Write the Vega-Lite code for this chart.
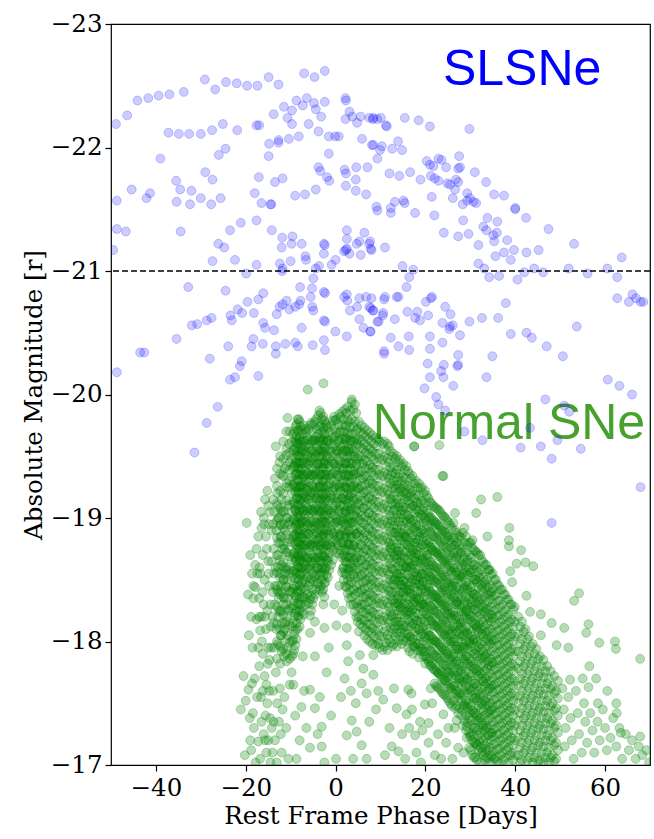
{
"$schema":"https://vega.github.io/schema/vega-lite/v6.json",
"width":539,"height":741,
"autosize":{"type":"none"},
"padding":{"left":111,"top":24,"right":4,"bottom":74},
"background":"white",
"config":{
 "view":{"stroke":"black","strokeWidth":1.2},
 "axis":{"grid":false,"domain":false,"tickColor":"black","tickSize":6,"tickWidth":1.2,"labelFont":"DejaVu Serif","labelFontSize":24.5,"labelColor":"black","labelPadding":3,"labelFlush":false,"titleFont":"DejaVu Serif","titleFontSize":24.5,"titleFontWeight":"normal","titleColor":"black"},
 "axisX":{"titlePadding":5,"labelPadding":5},
 "axisY":{"titlePadding":4}
},
"datasets":{
"slsn":[
{"x":-48.9,"y":-22.19},{"x":-46.4,"y":-22.26},{"x":-44.1,"y":-22.38},{"x":-41.7,"y":-22.40},{"x":-39.4,"y":-22.42},{"x":-37.0,"y":-22.43},{"x":-33.8,"y":-22.45},{"x":-29.1,"y":-22.55},{"x":-26.8,"y":-22.47},{"x":-24.4,"y":-22.53},{"x":-22.0,"y":-22.52},{"x":-19.7,"y":-22.50},{"x":-17.4,"y":-22.50},{"x":-14.9,"y":-22.57},{"x":-12.7,"y":-22.51},{"x":-7.0,"y":-22.60},{"x":-4.7,"y":-22.57},{"x":-2.4,"y":-22.62},
{"x":-13.8,"y":-22.27},{"x":-11.5,"y":-22.33},{"x":-9.7,"y":-22.30},{"x":-8.7,"y":-22.38},{"x":-7.3,"y":-22.34},{"x":-6.4,"y":-22.40},{"x":-4.8,"y":-22.36},{"x":-4.4,"y":-22.31},{"x":-3.2,"y":-22.25},{"x":-2.4,"y":-22.37},{"x":2.2,"y":-22.40},{"x":2.3,"y":-22.38},{"x":3.1,"y":-22.29},{"x":2.2,"y":-22.23},{"x":3.7,"y":-22.25},{"x":4.8,"y":-22.20},{"x":5.6,"y":-22.25},{"x":7.5,"y":-22.24},{"x":8.3,"y":-22.23},{"x":9.3,"y":-22.23},
{"x":-37.2,"y":-22.12},{"x":-34.9,"y":-22.11},{"x":-32.6,"y":-22.11},{"x":-30.0,"y":-22.11},{"x":-27.5,"y":-22.14},{"x":-25.1,"y":-22.19},{"x":-21.9,"y":-22.14},{"x":-17.6,"y":-22.18},{"x":-17.0,"y":-22.18},{"x":-10.7,"y":-22.24},{"x":-9.7,"y":-22.19},{"x":-6.0,"y":-22.19},{"x":-3.8,"y":-22.13},{"x":-1.5,"y":-22.09},{"x":-0.1,"y":-22.09},{"x":0.7,"y":-22.09},{"x":5.9,"y":-22.07},{"x":8.1,"y":-22.02},{"x":9.3,"y":-21.91},
{"x":-14.8,"y":-22.03},{"x":-12.7,"y":-22.04},{"x":-12.7,"y":-22.06},{"x":-10.4,"y":-22.07},{"x":-8.2,"y":-22.09},{"x":-14.9,"y":-21.93},{"x":-24.5,"y":-21.99},{"x":-26.0,"y":-21.94},{"x":-39.0,"y":-21.91},{"x":-1.5,"y":-21.95},
{"x":-29.0,"y":-21.80},{"x":-27.4,"y":-21.74},{"x":-35.5,"y":-21.73},{"x":-34.6,"y":-21.66},{"x":-32.1,"y":-21.65},{"x":-45.4,"y":-21.66},{"x":-41.3,"y":-21.63},{"x":-42.1,"y":-21.59},{"x":-48.7,"y":-21.57},{"x":-35.4,"y":-21.56},{"x":-32.4,"y":-21.54},{"x":-30.0,"y":-21.59},{"x":-27.7,"y":-21.54},{"x":-25.6,"y":-21.59},{"x":-18.0,"y":-21.63},{"x":-16.5,"y":-21.55},{"x":-14.5,"y":-21.54},{"x":-14.3,"y":-21.54},{"x":-17.1,"y":-21.76},{"x":-13.5,"y":-21.72},{"x":-11.8,"y":-21.75},{"x":-9.0,"y":-21.61},{"x":-6.8,"y":-21.62},{"x":-4.4,"y":-21.66},{"x":-3.8,"y":-21.84},{"x":-3.4,"y":-21.81},{"x":-1.9,"y":-21.76},{"x":-1.4,"y":-21.73},{"x":2.0,"y":-21.82},{"x":2.3,"y":-21.79},{"x":4.6,"y":-21.84},{"x":7.1,"y":-21.84},{"x":4.5,"y":-21.74},{"x":2.3,"y":-21.69},{"x":4.5,"y":-21.65},{"x":6.8,"y":-21.62},
{"x":8.4,"y":-22.24},{"x":10.1,"y":-22.24},{"x":11.4,"y":-22.17},{"x":11.2,"y":-22.18},{"x":15.4,"y":-22.24},{"x":18.5,"y":-22.22},{"x":21.0,"y":-22.17},{"x":29.8,"y":-22.15},{"x":8.4,"y":-22.02},{"x":10.3,"y":-22.01},{"x":9.9,"y":-21.98},{"x":12.6,"y":-21.99},{"x":14.8,"y":-21.98},{"x":13.9,"y":-22.05},
{"x":20.3,"y":-21.89},{"x":21.0,"y":-21.86},{"x":21.8,"y":-21.85},{"x":22.9,"y":-21.91},{"x":23.6,"y":-21.90},{"x":24.6,"y":-21.84},{"x":27.5,"y":-21.93},{"x":27.3,"y":-21.83},{"x":27.7,"y":-21.84},{"x":31.0,"y":-21.80},{"x":33.5,"y":-21.72},{"x":35.3,"y":-21.62},{"x":37.5,"y":-21.61},{"x":40.0,"y":-21.51},
{"x":12.0,"y":-21.79},{"x":14.2,"y":-21.77},{"x":16.6,"y":-21.80},{"x":18.9,"y":-21.74},{"x":21.2,"y":-21.77},{"x":22.1,"y":-21.75},{"x":22.9,"y":-21.73},{"x":24.9,"y":-21.71},{"x":25.5,"y":-21.70},{"x":26.8,"y":-21.74},{"x":27.3,"y":-21.72},{"x":26.6,"y":-21.66},{"x":21.4,"y":-21.60},{"x":26.1,"y":-21.59},{"x":28.3,"y":-21.54},{"x":29.3,"y":-21.63},{"x":29.9,"y":-21.59},{"x":30.7,"y":-21.56},{"x":31.3,"y":-21.55},{"x":29.3,"y":-21.57},{"x":13.2,"y":-21.56},{"x":15.1,"y":-21.57},{"x":15.4,"y":-21.55},{"x":9.1,"y":-21.52},{"x":12.3,"y":-21.51},
{"x":9.3,"y":-21.49},{"x":-48.7,"y":-21.34},{"x":-46.7,"y":-21.32},{"x":-49.5,"y":-21.17},{"x":-34.5,"y":-21.32},{"x":-23.5,"y":-21.33},{"x":-21.1,"y":-21.39},{"x":-17.6,"y":-21.41},{"x":-14.2,"y":-21.33},{"x":-11.9,"y":-21.27},{"x":-9.6,"y":-21.28},{"x":-12.0,"y":-21.19},{"x":-9.8,"y":-21.22},{"x":-7.55,"y":-21.22},{"x":-6.7,"y":-21.12},{"x":-6.6,"y":-21.09},{"x":-2.6,"y":-21.22},{"x":-2.4,"y":-21.21},{"x":-2.6,"y":-21.14},{"x":2.5,"y":-21.33},{"x":2.5,"y":-21.26},{"x":6.4,"y":-21.31},{"x":2.5,"y":-21.18},{"x":3.1,"y":-21.14},{"x":2.3,"y":-21.17},{"x":1.9,"y":-21.16},{"x":4.7,"y":-21.22},{"x":5.3,"y":-21.24},{"x":7.5,"y":-21.22},{"x":7.8,"y":-21.18},{"x":5.6,"y":-21.13},{"x":0.0,"y":-21.09},{"x":-0.9,"y":-21.05},{"x":-3.7,"y":-21.04},{"x":-4.4,"y":-21.02},
{"x":-26.1,"y":-21.22},{"x":-24.8,"y":-21.19},{"x":-27.4,"y":-21.08},{"x":-22.4,"y":-21.09},{"x":-17.6,"y":-21.05},{"x":-12.4,"y":-21.06},{"x":-11.8,"y":-21.02},{"x":-11.9,"y":-21.00},{"x":-10.0,"y":-21.08},
{"x":-19.9,"y":-20.98},{"x":-32.8,"y":-20.87},{"x":-24.5,"y":-20.84},{"x":-16.1,"y":-20.82},{"x":-17.2,"y":-20.77},{"x":-19.6,"y":-20.75},{"x":-7.9,"y":-20.87},{"x":-5.25,"y":-20.86},{"x":-4.95,"y":-20.94},{"x":-5.55,"y":-20.79},{"x":-2.6,"y":-20.83},{"x":-2.35,"y":-20.82},{"x":-21.8,"y":-20.69},{"x":-20.8,"y":-20.66},{"x":-23.4,"y":-20.64},{"x":-23.1,"y":-20.60},{"x":-18.2,"y":-20.66},{"x":-12.5,"y":-20.71},{"x":-11.8,"y":-20.73},{"x":-13.1,"y":-20.65},{"x":-10.9,"y":-20.76},{"x":-10.3,"y":-20.69},{"x":-8.1,"y":-20.73},{"x":-7.8,"y":-20.76},{"x":-9.0,"y":-20.71},{"x":-5.2,"y":-20.71},{"x":-4.95,"y":-20.68},{"x":-2.6,"y":-20.60},{"x":-2.35,"y":-20.59},{"x":-7.55,"y":-20.54},{"x":-0.05,"y":-20.51},{"x":2.5,"y":-20.47},{"x":5.3,"y":-20.61},{"x":6.2,"y":-20.54},{"x":7.8,"y":-20.51},{"x":2.5,"y":-20.81},{"x":1.9,"y":-20.79},{"x":2.6,"y":-20.76},{"x":3.2,"y":-20.68},{"x":4.8,"y":-20.71},{"x":5.3,"y":-20.78},{"x":6.8,"y":-20.79},{"x":7.5,"y":-20.71},{"x":8.3,"y":-20.68},{"x":9.3,"y":-20.59},
{"x":-32.0,"y":-20.56},{"x":-30.8,"y":-20.57},{"x":-28.7,"y":-20.60},{"x":-27.6,"y":-20.62},{"x":-35.4,"y":-20.45},{"x":-16.1,"y":-20.58},{"x":-15.7,"y":-20.54},{"x":-13.7,"y":-20.52},{"x":-18.3,"y":-20.45},{"x":-18.7,"y":-20.39},{"x":-16.2,"y":-20.41},{"x":-13.3,"y":-20.39},{"x":-13.3,"y":-20.33},{"x":-11.2,"y":-20.41},{"x":-9.0,"y":-20.42},{"x":-8.4,"y":-20.39},{"x":-5.1,"y":-20.40},{"x":-2.6,"y":-20.44},{"x":-2.35,"y":-20.36},{"x":-43.5,"y":-20.34},{"x":-42.6,"y":-20.34},{"x":-28.0,"y":-20.29},{"x":-23.9,"y":-20.39},{"x":-20.9,"y":-20.27},{"x":-21.3,"y":-20.23},{"x":-22.4,"y":-20.14},{"x":-23.5,"y":-20.12},{"x":-17.2,"y":-20.15},{"x":-48.7,"y":-20.18},
{"x":12.3,"y":-21.47},{"x":17.7,"y":-21.47},{"x":22.0,"y":-21.45},{"x":28.4,"y":-21.41},{"x":24.1,"y":-21.31},{"x":27.3,"y":-21.28},{"x":29.6,"y":-21.30},{"x":31.8,"y":-21.21},{"x":32.9,"y":-21.36},{"x":33.6,"y":-21.33},{"x":33.8,"y":-21.43},{"x":36.0,"y":-21.40},{"x":35.9,"y":-21.31},{"x":35.1,"y":-21.29},{"x":35.3,"y":-21.24},{"x":38.2,"y":-21.25},{"x":40.0,"y":-21.50},{"x":42.4,"y":-21.43},{"x":47.4,"y":-21.34},{"x":39.7,"y":-21.17},{"x":37.5,"y":-21.15},{"x":39.0,"y":-21.09},{"x":35.6,"y":-21.12},{"x":42.5,"y":-21.15},{"x":45.2,"y":-21.17},{"x":53.1,"y":-21.22},{"x":63.7,"y":-21.11},{"x":11.0,"y":-21.19},{"x":8.0,"y":-21.17},{"x":7.7,"y":-21.24},
{"x":14.9,"y":-21.04},{"x":17.3,"y":-21.01},{"x":16.4,"y":-20.95},{"x":15.8,"y":-20.87},{"x":31.8,"y":-21.06},{"x":33.1,"y":-21.02},{"x":34.2,"y":-20.95},{"x":36.4,"y":-20.96},{"x":40.5,"y":-20.93},{"x":42.0,"y":-20.99},{"x":44.2,"y":-21.02},{"x":46.2,"y":-20.99},{"x":51.9,"y":-21.02},{"x":56.1,"y":-20.98},{"x":60.5,"y":-21.02},{"x":62.7,"y":-20.95},
{"x":11.0,"y":-20.79},{"x":10.8,"y":-20.77},{"x":13.6,"y":-20.79},{"x":14.0,"y":-20.79},{"x":8.0,"y":-20.78},{"x":7.8,"y":-20.70},{"x":8.4,"y":-20.68},{"x":10.6,"y":-20.66},{"x":10.5,"y":-20.64},{"x":9.6,"y":-20.59},{"x":13.2,"y":-20.61},{"x":16.0,"y":-20.67},{"x":18.2,"y":-20.67},{"x":17.7,"y":-20.62},{"x":18.8,"y":-20.60},{"x":20.6,"y":-20.64},{"x":20.1,"y":-20.75},{"x":21.2,"y":-20.78},{"x":21.5,"y":-20.79},{"x":24.4,"y":-20.71},{"x":25.6,"y":-20.65},{"x":23.8,"y":-20.58},{"x":25.5,"y":-20.55},{"x":25.3,"y":-20.53},{"x":26.1,"y":-20.56},{"x":27.7,"y":-20.48},{"x":29.8,"y":-20.59},{"x":32.6,"y":-20.62},{"x":36.2,"y":-20.62},{"x":37.9,"y":-20.74},{"x":7.7,"y":-20.51},{"x":12.3,"y":-20.46},{"x":14.0,"y":-20.39},{"x":16.3,"y":-20.47},{"x":16.4,"y":-20.36},{"x":21.0,"y":-20.47},{"x":21.0,"y":-20.37},{"x":23.8,"y":-20.42},{"x":10.8,"y":-20.35},{"x":10.8,"y":-20.33},{"x":20.5,"y":-20.25},{"x":24.1,"y":-20.24},{"x":23.5,"y":-20.19},{"x":24.0,"y":-20.14},{"x":27.3,"y":-20.32},{"x":27.1,"y":-20.23},{"x":27.3,"y":-20.24},{"x":26.2,"y":-20.07},{"x":21.0,"y":-20.14},{"x":19.8,"y":-20.05},{"x":22.4,"y":-19.98},{"x":33.6,"y":-20.14},{"x":34.9,"y":-20.31},{"x":39.0,"y":-20.49},{"x":42.5,"y":-20.50},{"x":43.7,"y":-20.46},{"x":47.0,"y":-20.39},{"x":50.6,"y":-20.31},{"x":53.7,"y":-20.55},{"x":62.7,"y":-20.78},{"x":65.3,"y":-20.75},{"x":66.1,"y":-20.81},{"x":66.9,"y":-20.78},{"x":67.9,"y":-20.75},{"x":68.5,"y":-20.75},{"x":60.6,"y":-20.12},{"x":63.2,"y":-20.07},{"x":66.0,"y":-20.00},{"x":46.7,"y":-19.96},
{"x":-26.25,"y":-19.90},{"x":-28.7,"y":-19.77},{"x":-31.4,"y":-19.53},
{"x":22.9,"y":-19.92},{"x":24.4,"y":-19.87},{"x":28.7,"y":-19.70},{"x":32.7,"y":-19.63},{"x":41.2,"y":-19.57},{"x":45.7,"y":-19.58},{"x":48.1,"y":-19.48},{"x":49.4,"y":-19.63},{"x":43.3,"y":-19.73},{"x":52.0,"y":-19.86},{"x":50.9,"y":-19.91},{"x":54.6,"y":-19.56},{"x":67.9,"y":-19.25},{"x":48.1,"y":-18.96}
],
"sn":[
{"x":-6.2,"y":-20.04},{"x":-2.7,"y":-20.09},{"x":3.6,"y":-19.96},
{"x":-19.8,"y":-18.96},{"x":-19.0,"y":-18.70},{"x":-18.6,"y":-18.55},{"x":-19.5,"y":-18.38},{"x":-18.3,"y":-18.45},{"x":-18.8,"y":-18.20},{"x":-19.3,"y":-18.05},{"x":-18.5,"y":-17.95},{"x":-20.5,"y":-17.72},{"x":-19.4,"y":-17.61},{"x":-18.6,"y":-17.66},{"x":-18.0,"y":-17.70},{"x":-21.1,"y":-17.45},{"x":-19.1,"y":-17.38},{"x":-20.0,"y":-17.52},{"x":-18.4,"y":-17.42},{"x":-20.2,"y":-17.08},{"x":-19.0,"y":-17.20},{"x":-18.2,"y":-17.30},{"x":-18.8,"y":-17.12},{"x":-17.8,"y":-17.02},
{"x":-17.6,"y":-18.75},{"x":-17.9,"y":-18.62},{"x":-17.9,"y":-18.44},{"x":-18.3,"y":-18.35},{"x":-17.6,"y":-18.18},{"x":-16.8,"y":-18.09},{"x":-16.5,"y":-18.92},{"x":-16.6,"y":-19.05},{"x":-15.7,"y":-19.15},{"x":-15.2,"y":-19.22},{"x":-14.6,"y":-19.05},{"x":-14.2,"y":-18.9},{"x":-15.5,"y":-18.85},{"x":-16.2,"y":-18.7},{"x":-15.0,"y":-18.65},{"x":-16.8,"y":-18.55},{"x":-15.8,"y":-18.5},{"x":-14.8,"y":-18.45},{"x":-17.0,"y":-18.35},{"x":-16.0,"y":-18.3},{"x":-15.2,"y":-18.25},{"x":-14.5,"y":-18.3},{"x":-16.5,"y":-18.2},{"x":-15.5,"y":-18.1},{"x":-14.4,"y":-18.12},{"x":-17.2,"y":-17.95},{"x":-16.2,"y":-17.9},{"x":-15.0,"y":-17.95},{"x":-15.4,"y":-17.65},{"x":-15.8,"y":-17.72},{"x":-14.8,"y":-17.6},{"x":-16.6,"y":-17.55},{"x":-15.2,"y":-17.5},{"x":-17.2,"y":-17.19},{"x":-16.5,"y":-17.35},{"x":-15.6,"y":-17.4},{"x":-14.6,"y":-17.38},{"x":-16.0,"y":-17.25},{"x":-15.0,"y":-17.2},{"x":-14.2,"y":-17.3},{"x":-16.8,"y":-17.05},{"x":-15.4,"y":-17.1},{"x":-14.5,"y":-17.02},{"x":-17.0,"y":-17.8},{"x":-14.7,"y":-17.85},
{"x":-17.2,"y":-18.85},{"x":-16.9,"y":-18.6},{"x":-16.3,"y":-18.4},{"x":-15.9,"y":-18.95},{"x":-15.3,"y":-18.75},{"x":-14.9,"y":-18.55},{"x":-14.3,"y":-18.65},{"x":-14.0,"y":-18.4},{"x":-14.1,"y":-18.2},{"x":-15.7,"y":-18.2},{"x":-16.4,"y":-18.0},{"x":-15.1,"y":-17.82},{"x":-14.4,"y":-17.95},{"x":-13.9,"y":-19.15},{"x":-13.9,"y":-18.95},{"x":-13.7,"y":-18.55},{"x":-13.8,"y":-18.15},{"x":-13.7,"y":-17.95},{"x":-13.9,"y":-17.6},{"x":-13.8,"y":-17.35},{"x":-14.0,"y":-17.1},{"x":-16.2,"y":-17.6},{"x":-15.7,"y":-17.2},{"x":-17.5,"y":-17.55},{"x":-17.4,"y":-18.55},{"x":-17.0,"y":-18.2},{"x":-16.0,"y":-19.0},{"x":-15.0,"y":-19.1},{"x":-14.8,"y":-18.95},
{"x":-13.3,"y":-19.58},{"x":-11.0,"y":-19.51},{"x":-10.7,"y":-19.81},{"x":-12.5,"y":-19.45},{"x":-13.5,"y":-19.32},{"x":-11.8,"y":-19.35},{"x":-10.4,"y":-19.6},{"x":-10.2,"y":-19.45},{"x":-13.0,"y":-19.2},{"x":-12.0,"y":-19.15},{"x":-11.0,"y":-19.25},{"x":-10.3,"y":-19.3},{"x":-13.6,"y":-19.05},{"x":-12.6,"y":-19.0},{"x":-11.5,"y":-19.05},{"x":-10.5,"y":-19.1},{"x":-13.2,"y":-18.9},{"x":-12.2,"y":-18.85},{"x":-11.2,"y":-18.9},{"x":-10.4,"y":-18.95},{"x":-13.8,"y":-18.75},{"x":-12.8,"y":-18.7},{"x":-11.8,"y":-18.75},{"x":-10.8,"y":-18.72},{"x":-13.4,"y":-18.6},{"x":-12.4,"y":-18.55},{"x":-11.4,"y":-18.6},{"x":-10.4,"y":-18.58},{"x":-13.0,"y":-18.45},{"x":-12.0,"y":-18.4},{"x":-11.0,"y":-18.45},{"x":-10.2,"y":-18.4},{"x":-13.6,"y":-18.3},{"x":-12.6,"y":-18.25},{"x":-11.6,"y":-18.3},{"x":-10.6,"y":-18.25},{"x":-13.2,"y":-18.1},{"x":-12.2,"y":-18.05},{"x":-11.2,"y":-18.1},{"x":-10.8,"y":-17.95},{"x":-12.0,"y":-17.92},{"x":-10.9,"y":-17.84},{"x":-11.5,"y":-17.88},{"x":-12.8,"y":-17.98},{"x":-13.3,"y":-17.75},{"x":-12.4,"y":-17.62},{"x":-13.0,"y":-17.5},{"x":-11.8,"y":-17.45},{"x":-12.6,"y":-17.35},{"x":-13.5,"y":-17.2},{"x":-12.2,"y":-17.25},{"x":-11.0,"y":-17.3},{"x":-10.5,"y":-17.05},{"x":-12.0,"y":-17.1},{"x":-13.1,"y":-17.02},{"x":-11.4,"y":-17.55},{"x":-10.2,"y":-17.65},{"x":-12.3,"y":-18.95},{"x":-11.6,"y":-18.5},{"x":-12.7,"y":-18.35},{"x":-11.9,"y":-18.15},{"x":-10.9,"y":-18.6},{"x":-12.9,"y":-19.1},{"x":-11.3,"y":-19.4},{"x":-12.1,"y":-18.62},{"x":-10.7,"y":-18.35},{"x":-13.5,"y":-18.45},
{"x":-13.05,"y":-19.4},{"x":-13.05,"y":-19.26},{"x":-13.05,"y":-19.12},{"x":-13.05,"y":-18.98},{"x":-13.05,"y":-18.84},{"x":-13.05,"y":-18.7},{"x":-13.05,"y":-18.56},{"x":-13.05,"y":-18.42},{"x":-13.05,"y":-18.28},{"x":-13.05,"y":-18.14},{"x":-13.05,"y":-18.0},{"x":-13.05,"y":-17.86},
{"x":-12.35,"y":-19.5},{"x":-12.35,"y":-19.36},{"x":-12.35,"y":-19.22},{"x":-12.35,"y":-19.08},{"x":-12.35,"y":-18.94},{"x":-12.35,"y":-18.8},{"x":-12.35,"y":-18.66},{"x":-12.35,"y":-18.52},{"x":-12.35,"y":-18.38},{"x":-12.35,"y":-18.24},{"x":-12.35,"y":-18.1},{"x":-12.35,"y":-17.96},{"x":-12.35,"y":-17.82},
{"x":-11.65,"y":-19.62},{"x":-11.65,"y":-19.48},{"x":-11.65,"y":-19.34},{"x":-11.65,"y":-19.2},{"x":-11.65,"y":-19.06},{"x":-11.65,"y":-18.92},{"x":-11.65,"y":-18.78},{"x":-11.65,"y":-18.64},{"x":-11.65,"y":-18.5},{"x":-11.65,"y":-18.36},{"x":-11.65,"y":-18.22},{"x":-11.65,"y":-18.08},{"x":-11.65,"y":-17.94},
{"x":-10.95,"y":-19.7},{"x":-10.95,"y":-19.56},{"x":-10.95,"y":-19.42},{"x":-10.95,"y":-19.28},{"x":-10.95,"y":-19.14},{"x":-10.95,"y":-19.0},{"x":-10.95,"y":-18.86},{"x":-10.95,"y":-18.72},{"x":-10.95,"y":-18.58},{"x":-10.95,"y":-18.44},{"x":-10.95,"y":-18.3},{"x":-10.95,"y":-18.16},{"x":-10.95,"y":-18.02},{"x":-10.95,"y":-17.9},
{"x":-10.25,"y":-19.7},{"x":-10.25,"y":-19.53},{"x":-10.25,"y":-19.39},{"x":-10.25,"y":-19.25},{"x":-10.25,"y":-19.11},{"x":-10.25,"y":-18.97},{"x":-10.25,"y":-18.83},{"x":-10.25,"y":-18.69},{"x":-10.25,"y":-18.55},{"x":-10.25,"y":-18.41},{"x":-10.25,"y":-18.27},{"x":-10.25,"y":-18.13},{"x":-10.25,"y":-17.99},{"x":-10.25,"y":-17.86},
{"x":-12.8,"y":-19.0},{"x":-12.8,"y":-18.8},{"x":-12.8,"y":-18.6},{"x":-12.8,"y":-18.4},{"x":-12.8,"y":-18.2},{"x":-12.1,"y":-19.05},{"x":-12.1,"y":-18.85},{"x":-12.1,"y":-18.45},{"x":-12.1,"y":-18.25},{"x":-12.1,"y":-18.05},{"x":-11.4,"y":-18.95},{"x":-11.4,"y":-18.75},{"x":-11.4,"y":-18.55},{"x":-11.4,"y":-18.35},{"x":-11.4,"y":-18.15},{"x":-10.7,"y":-19.0},{"x":-10.7,"y":-18.8},{"x":-10.7,"y":-18.5},{"x":-10.7,"y":-18.2},{"x":-10.7,"y":-18.05},
{"x":-9.7,"y":-19.62},{"x":-9.7,"y":-19.48},{"x":-9.7,"y":-19.33},{"x":-9.7,"y":-19.2},{"x":-9.7,"y":-19.05},{"x":-9.7,"y":-18.92},{"x":-9.7,"y":-18.8},{"x":-9.7,"y":-18.66},{"x":-9.7,"y":-18.52},{"x":-9.7,"y":-18.4},{"x":-9.7,"y":-18.27},{"x":-9.7,"y":-18.12},{"x":-9.7,"y":-18.0},{"x":-9.7,"y":-17.88},
{"x":-9.45,"y":-19.68},{"x":-9.45,"y":-19.55},{"x":-9.45,"y":-19.41},{"x":-9.45,"y":-19.27},{"x":-9.45,"y":-19.13},{"x":-9.45,"y":-18.99},{"x":-9.45,"y":-18.85},{"x":-9.45,"y":-18.71},{"x":-9.45,"y":-18.57},{"x":-9.45,"y":-18.43},{"x":-9.45,"y":-18.29},{"x":-9.45,"y":-18.15},{"x":-9.45,"y":-18.01},{"x":-9.45,"y":-17.9},
{"x":-9.2,"y":-19.7},{"x":-9.2,"y":-19.55},{"x":-9.2,"y":-19.42},{"x":-9.2,"y":-19.28},{"x":-9.2,"y":-19.12},{"x":-9.2,"y":-18.98},{"x":-9.2,"y":-18.86},{"x":-9.2,"y":-18.72},{"x":-9.2,"y":-18.58},{"x":-9.2,"y":-18.45},{"x":-9.2,"y":-18.33},{"x":-9.2,"y":-18.2},{"x":-9.2,"y":-18.06},{"x":-9.2,"y":-17.93},
{"x":-8.95,"y":-19.74},{"x":-8.95,"y":-19.61},{"x":-8.95,"y":-19.48},{"x":-8.95,"y":-19.35},{"x":-8.95,"y":-19.21},{"x":-8.95,"y":-19.07},{"x":-8.95,"y":-18.93},{"x":-8.95,"y":-18.79},{"x":-8.95,"y":-18.65},{"x":-8.95,"y":-18.51},{"x":-8.95,"y":-18.37},{"x":-8.95,"y":-18.23},{"x":-8.95,"y":-18.09},{"x":-8.95,"y":-17.97},
{"x":-8.7,"y":-19.76},{"x":-8.7,"y":-19.66},{"x":-8.7,"y":-19.56},{"x":-8.7,"y":-19.45},{"x":-8.7,"y":-19.36},{"x":-8.7,"y":-19.25},{"x":-8.7,"y":-19.16},{"x":-8.7,"y":-19.05},{"x":-8.7,"y":-18.95},{"x":-8.7,"y":-18.85},{"x":-8.7,"y":-18.75},{"x":-8.7,"y":-18.66},{"x":-8.7,"y":-18.55},{"x":-8.7,"y":-18.45},{"x":-8.7,"y":-18.36},{"x":-8.7,"y":-18.25},{"x":-8.7,"y":-18.15},{"x":-8.7,"y":-18.02},
{"x":-8.45,"y":-19.8},{"x":-8.45,"y":-19.71},{"x":-8.45,"y":-19.61},{"x":-8.45,"y":-19.51},{"x":-8.45,"y":-19.41},{"x":-8.45,"y":-19.31},{"x":-8.45,"y":-19.21},{"x":-8.45,"y":-19.11},{"x":-8.45,"y":-19.01},{"x":-8.45,"y":-18.91},{"x":-8.45,"y":-18.81},{"x":-8.45,"y":-18.71},{"x":-8.45,"y":-18.61},{"x":-8.45,"y":-18.51},{"x":-8.45,"y":-18.41},{"x":-8.45,"y":-18.31},{"x":-8.45,"y":-18.21},{"x":-8.45,"y":-18.1},
{"x":-8.2,"y":-19.8},{"x":-8.2,"y":-19.7},{"x":-8.2,"y":-19.6},{"x":-8.2,"y":-19.5},{"x":-8.2,"y":-19.4},{"x":-8.2,"y":-19.3},{"x":-8.2,"y":-19.2},{"x":-8.2,"y":-19.1},{"x":-8.2,"y":-19.0},{"x":-8.2,"y":-18.9},{"x":-8.2,"y":-18.8},{"x":-8.2,"y":-18.7},{"x":-8.2,"y":-18.6},{"x":-8.2,"y":-18.5},{"x":-8.2,"y":-18.4},{"x":-8.2,"y":-18.3},{"x":-8.2,"y":-18.2},
{"x":-8.0,"y":-19.78},{"x":-8.0,"y":-19.65},{"x":-8.0,"y":-19.55},{"x":-8.0,"y":-19.45},{"x":-8.0,"y":-19.35},{"x":-8.0,"y":-19.25},{"x":-8.0,"y":-19.15},{"x":-8.0,"y":-19.05},{"x":-8.0,"y":-18.95},{"x":-8.0,"y":-18.85},{"x":-8.0,"y":-18.75},{"x":-8.0,"y":-18.65},{"x":-8.0,"y":-18.55},{"x":-8.0,"y":-18.45},{"x":-8.0,"y":-18.35},{"x":-8.0,"y":-18.25},{"x":-8.0,"y":-18.12},
{"x":-7.8,"y":-19.74},{"x":-7.8,"y":-19.62},{"x":-7.8,"y":-19.5},{"x":-7.8,"y":-19.38},{"x":-7.8,"y":-19.26},{"x":-7.8,"y":-19.14},{"x":-7.8,"y":-19.02},{"x":-7.8,"y":-18.9},{"x":-7.8,"y":-18.78},{"x":-7.8,"y":-18.66},{"x":-7.8,"y":-18.54},{"x":-7.8,"y":-18.42},{"x":-7.8,"y":-18.3},{"x":-7.8,"y":-18.18},
{"x":-7.55,"y":-19.71},{"x":-7.55,"y":-19.58},{"x":-7.55,"y":-19.45},{"x":-7.55,"y":-19.32},{"x":-7.55,"y":-19.2},{"x":-7.55,"y":-19.08},{"x":-7.55,"y":-18.96},{"x":-7.55,"y":-18.84},{"x":-7.55,"y":-18.72},{"x":-7.55,"y":-18.6},{"x":-7.55,"y":-18.48},{"x":-7.55,"y":-18.36},{"x":-7.55,"y":-18.24},
{"x":-7.3,"y":-19.68},{"x":-7.3,"y":-19.55},{"x":-7.3,"y":-19.4},{"x":-7.3,"y":-19.27},{"x":-7.3,"y":-19.13},{"x":-7.3,"y":-18.98},{"x":-7.3,"y":-18.84},{"x":-7.3,"y":-18.7},{"x":-7.3,"y":-18.56},{"x":-7.3,"y":-18.43},{"x":-7.3,"y":-18.28},
{"x":-7.05,"y":-19.75},{"x":-7.05,"y":-19.62},{"x":-7.05,"y":-19.48},{"x":-7.05,"y":-19.34},{"x":-7.05,"y":-19.2},{"x":-7.05,"y":-19.06},{"x":-7.05,"y":-18.92},{"x":-7.05,"y":-18.78},{"x":-7.05,"y":-18.64},{"x":-7.05,"y":-18.5},{"x":-7.05,"y":-18.36},{"x":-7.05,"y":-18.22},
{"x":-6.8,"y":-19.72},{"x":-6.8,"y":-19.58},{"x":-6.8,"y":-19.45},{"x":-6.8,"y":-19.3},{"x":-6.8,"y":-19.17},{"x":-6.8,"y":-19.03},{"x":-6.8,"y":-18.88},{"x":-6.8,"y":-18.75},{"x":-6.8,"y":-18.62},{"x":-6.8,"y":-18.48},{"x":-6.8,"y":-18.35},
{"x":-6.55,"y":-19.7},{"x":-6.55,"y":-19.52},{"x":-6.55,"y":-19.38},{"x":-6.55,"y":-19.24},{"x":-6.55,"y":-19.1},{"x":-6.55,"y":-18.96},{"x":-6.55,"y":-18.82},{"x":-6.55,"y":-18.68},{"x":-6.55,"y":-18.55},{"x":-6.55,"y":-18.42},{"x":-6.55,"y":-18.3},
{"x":-6.3,"y":-19.65},{"x":-6.3,"y":-19.5},{"x":-6.3,"y":-19.36},{"x":-6.3,"y":-19.22},{"x":-6.3,"y":-19.08},{"x":-6.3,"y":-18.94},{"x":-6.3,"y":-18.8},{"x":-6.3,"y":-18.66},{"x":-6.3,"y":-18.52},{"x":-6.3,"y":-18.38},
{"x":-6.0,"y":-19.72},{"x":-6.0,"y":-19.57},{"x":-6.0,"y":-19.43},{"x":-6.0,"y":-19.29},{"x":-6.0,"y":-19.15},{"x":-6.0,"y":-19.01},{"x":-6.0,"y":-18.87},{"x":-6.0,"y":-18.73},{"x":-6.0,"y":-18.59},{"x":-6.0,"y":-18.45},{"x":-6.0,"y":-18.31},
{"x":-7.3,"y":-17.88},{"x":-9.4,"y":-17.65},{"x":-7.6,"y":-17.47},{"x":-8.7,"y":-17.05},{"x":-6.5,"y":-17.3},{"x":-8.0,"y":-17.2},{"x":-9.0,"y":-17.4},{"x":-7.0,"y":-17.6},{"x":-9.8,"y":-17.75},
{"x":-5.7,"y":-19.75},{"x":-5.7,"y":-19.6},{"x":-5.7,"y":-19.46},{"x":-5.7,"y":-19.32},{"x":-5.7,"y":-19.18},{"x":-5.7,"y":-19.04},{"x":-5.7,"y":-18.9},{"x":-5.7,"y":-18.76},{"x":-5.7,"y":-18.62},{"x":-5.7,"y":-18.48},{"x":-5.7,"y":-18.34},{"x":-5.7,"y":-18.21},
{"x":-5.45,"y":-19.77},{"x":-5.45,"y":-19.63},{"x":-5.45,"y":-19.49},{"x":-5.45,"y":-19.35},{"x":-5.45,"y":-19.21},{"x":-5.45,"y":-19.07},{"x":-5.45,"y":-18.93},{"x":-5.45,"y":-18.79},{"x":-5.45,"y":-18.65},{"x":-5.45,"y":-18.51},{"x":-5.45,"y":-18.37},{"x":-5.45,"y":-18.25},
{"x":-5.2,"y":-19.7},{"x":-5.2,"y":-19.55},{"x":-5.2,"y":-19.4},{"x":-5.2,"y":-19.26},{"x":-5.2,"y":-19.12},{"x":-5.2,"y":-18.97},{"x":-5.2,"y":-18.83},{"x":-5.2,"y":-18.7},{"x":-5.2,"y":-18.55},{"x":-5.2,"y":-18.42},{"x":-5.2,"y":-18.3},
{"x":-4.9,"y":-19.76},{"x":-4.9,"y":-19.62},{"x":-4.9,"y":-19.48},{"x":-4.9,"y":-19.34},{"x":-4.9,"y":-19.2},{"x":-4.9,"y":-19.05},{"x":-4.9,"y":-18.91},{"x":-4.9,"y":-18.77},{"x":-4.9,"y":-18.63},{"x":-4.9,"y":-18.49},{"x":-4.9,"y":-18.35},
{"x":-4.6,"y":-19.78},{"x":-4.6,"y":-19.63},{"x":-4.6,"y":-19.5},{"x":-4.6,"y":-19.36},{"x":-4.6,"y":-19.22},{"x":-4.6,"y":-19.08},{"x":-4.6,"y":-18.94},{"x":-4.6,"y":-18.8},{"x":-4.6,"y":-18.66},{"x":-4.6,"y":-18.52},{"x":-4.6,"y":-18.38},{"x":-4.6,"y":-18.16},
{"x":-4.35,"y":-19.8},{"x":-4.35,"y":-19.66},{"x":-4.35,"y":-19.52},{"x":-4.35,"y":-19.38},{"x":-4.35,"y":-19.24},{"x":-4.35,"y":-19.1},{"x":-4.35,"y":-18.96},{"x":-4.35,"y":-18.82},{"x":-4.35,"y":-18.68},{"x":-4.35,"y":-18.54},{"x":-4.35,"y":-18.42},
{"x":-4.1,"y":-19.72},{"x":-4.1,"y":-19.58},{"x":-4.1,"y":-19.44},{"x":-4.1,"y":-19.3},{"x":-4.1,"y":-19.16},{"x":-4.1,"y":-19.02},{"x":-4.1,"y":-18.88},{"x":-4.1,"y":-18.74},{"x":-4.1,"y":-18.6},{"x":-4.1,"y":-18.47},
{"x":-3.85,"y":-19.83},{"x":-3.85,"y":-19.68},{"x":-3.85,"y":-19.55},{"x":-3.85,"y":-19.43},{"x":-3.85,"y":-19.31},{"x":-3.85,"y":-19.19},{"x":-3.85,"y":-19.07},{"x":-3.85,"y":-18.95},{"x":-3.85,"y":-18.83},{"x":-3.85,"y":-18.71},{"x":-3.85,"y":-18.59},{"x":-3.85,"y":-18.47},
{"x":-3.6,"y":-19.87},{"x":-3.6,"y":-19.74},{"x":-3.6,"y":-19.62},{"x":-3.6,"y":-19.5},{"x":-3.6,"y":-19.38},{"x":-3.6,"y":-19.26},{"x":-3.6,"y":-19.14},{"x":-3.6,"y":-19.02},{"x":-3.6,"y":-18.9},{"x":-3.6,"y":-18.78},{"x":-3.6,"y":-18.66},{"x":-3.6,"y":-18.54},{"x":-3.6,"y":-18.42},
{"x":-3.3,"y":-19.85},{"x":-3.3,"y":-19.75},{"x":-3.3,"y":-19.65},{"x":-3.3,"y":-19.55},{"x":-3.3,"y":-19.45},{"x":-3.3,"y":-19.35},{"x":-3.3,"y":-19.25},{"x":-3.3,"y":-19.15},{"x":-3.3,"y":-19.05},{"x":-3.3,"y":-18.95},{"x":-3.3,"y":-18.85},{"x":-3.3,"y":-18.75},{"x":-3.3,"y":-18.65},{"x":-3.3,"y":-18.55},{"x":-3.3,"y":-18.45},
{"x":-3.0,"y":-19.8},{"x":-3.0,"y":-19.7},{"x":-3.0,"y":-19.6},{"x":-3.0,"y":-19.5},{"x":-3.0,"y":-19.4},{"x":-3.0,"y":-19.3},{"x":-3.0,"y":-19.2},{"x":-3.0,"y":-19.1},{"x":-3.0,"y":-19.0},{"x":-3.0,"y":-18.9},{"x":-3.0,"y":-18.8},{"x":-3.0,"y":-18.7},{"x":-3.0,"y":-18.6},{"x":-3.0,"y":-18.5},{"x":-3.0,"y":-18.4},
{"x":-2.75,"y":-19.82},{"x":-2.75,"y":-19.73},{"x":-2.75,"y":-19.63},{"x":-2.75,"y":-19.52},{"x":-2.75,"y":-19.41},{"x":-2.75,"y":-19.3},{"x":-2.75,"y":-19.19},{"x":-2.75,"y":-19.08},{"x":-2.75,"y":-18.97},{"x":-2.75,"y":-18.86},{"x":-2.75,"y":-18.75},{"x":-2.75,"y":-18.64},{"x":-2.75,"y":-18.53},{"x":-2.75,"y":-18.42},{"x":-2.75,"y":-18.3},
{"x":-2.5,"y":-19.79},{"x":-2.5,"y":-19.68},{"x":-2.5,"y":-19.57},{"x":-2.5,"y":-19.46},{"x":-2.5,"y":-19.35},{"x":-2.5,"y":-19.24},{"x":-2.5,"y":-19.13},{"x":-2.5,"y":-19.02},{"x":-2.5,"y":-18.91},{"x":-2.5,"y":-18.8},{"x":-2.5,"y":-18.69},{"x":-2.5,"y":-18.58},{"x":-2.5,"y":-18.47},{"x":-2.5,"y":-18.36},{"x":-2.5,"y":-18.11},
{"x":-2.25,"y":-19.77},{"x":-2.25,"y":-19.68},{"x":-2.25,"y":-19.56},{"x":-2.25,"y":-19.44},{"x":-2.25,"y":-19.32},{"x":-2.25,"y":-19.2},{"x":-2.25,"y":-19.08},{"x":-2.25,"y":-18.96},{"x":-2.25,"y":-18.84},{"x":-2.25,"y":-18.72},{"x":-2.25,"y":-18.6},{"x":-2.25,"y":-18.48},
{"x":-2.0,"y":-19.75},{"x":-2.0,"y":-19.62},{"x":-2.0,"y":-19.5},{"x":-2.0,"y":-19.38},{"x":-2.0,"y":-19.26},{"x":-2.0,"y":-19.14},{"x":-2.0,"y":-19.02},{"x":-2.0,"y":-18.9},{"x":-2.0,"y":-18.78},{"x":-2.0,"y":-18.66},{"x":-2.0,"y":-18.54},
{"x":-1.7,"y":-19.73},{"x":-1.7,"y":-19.63},{"x":-1.7,"y":-19.49},{"x":-1.7,"y":-19.35},{"x":-1.7,"y":-19.21},{"x":-1.7,"y":-19.07},{"x":-1.7,"y":-18.93},{"x":-1.7,"y":-18.79},{"x":-1.7,"y":-18.65},{"x":-1.7,"y":-18.52},
{"x":-1.4,"y":-19.7},{"x":-1.4,"y":-19.56},{"x":-1.4,"y":-19.42},{"x":-1.4,"y":-19.28},{"x":-1.4,"y":-19.14},{"x":-1.4,"y":-19.0},{"x":-1.4,"y":-18.86},{"x":-1.4,"y":-18.72},{"x":-1.4,"y":-18.58},
{"x":-1.0,"y":-19.75},{"x":-1.0,"y":-19.6},{"x":-1.0,"y":-19.46},{"x":-1.0,"y":-19.32},{"x":-1.0,"y":-19.18},{"x":-1.0,"y":-19.04},{"x":-1.0,"y":-18.9},{"x":-1.0,"y":-18.76},{"x":-1.0,"y":-18.62},
{"x":-5.7,"y":-18.07},{"x":-4.6,"y":-17.88},{"x":-5.7,"y":-17.61},{"x":-4.6,"y":-17.46},{"x":-3.1,"y":-17.31},{"x":-5.7,"y":-17.14},{"x":-3.1,"y":-17.15},{"x":-2.0,"y":-17.75},{"x":-1.5,"y":-17.95},{"x":-4.0,"y":-17.25},{"x":-2.5,"y":-17.02},{"x":-3.5,"y":-17.55},{"x":-1.0,"y":-17.4},
{"x":-0.6,"y":-19.79},{"x":-0.6,"y":-19.65},{"x":-0.6,"y":-19.5},{"x":-0.6,"y":-19.36},{"x":-0.6,"y":-19.22},{"x":-0.6,"y":-19.08},{"x":-0.6,"y":-18.94},{"x":-0.6,"y":-18.8},{"x":-0.6,"y":-18.66},
{"x":-0.35,"y":-19.82},{"x":-0.35,"y":-19.72},{"x":-0.35,"y":-19.58},{"x":-0.35,"y":-19.44},{"x":-0.35,"y":-19.3},{"x":-0.35,"y":-19.16},{"x":-0.35,"y":-19.02},{"x":-0.35,"y":-18.88},{"x":-0.35,"y":-18.74},
{"x":-0.1,"y":-19.79},{"x":-0.1,"y":-19.66},{"x":-0.1,"y":-19.52},{"x":-0.1,"y":-19.38},{"x":-0.1,"y":-19.24},{"x":-0.1,"y":-19.1},{"x":-0.1,"y":-18.96},{"x":-0.1,"y":-18.82},
{"x":0.2,"y":-19.8},{"x":0.2,"y":-19.69},{"x":0.2,"y":-19.55},{"x":0.2,"y":-19.41},{"x":0.2,"y":-19.27},{"x":0.2,"y":-19.13},{"x":0.2,"y":-18.99},{"x":0.2,"y":-18.85},{"x":0.2,"y":-18.72},
{"x":0.5,"y":-19.76},{"x":0.5,"y":-19.62},{"x":0.5,"y":-19.48},{"x":0.5,"y":-19.34},{"x":0.5,"y":-19.2},{"x":0.5,"y":-19.06},{"x":0.5,"y":-18.92},{"x":0.5,"y":-18.78},
{"x":0.8,"y":-19.84},{"x":0.8,"y":-19.69},{"x":0.8,"y":-19.55},{"x":0.8,"y":-19.41},{"x":0.8,"y":-19.27},{"x":0.8,"y":-19.13},{"x":0.8,"y":-18.99},{"x":0.8,"y":-18.85},{"x":0.8,"y":-18.71},
{"x":1.1,"y":-19.82},{"x":1.1,"y":-19.7},{"x":1.1,"y":-19.58},{"x":1.1,"y":-19.46},{"x":1.1,"y":-19.34},{"x":1.1,"y":-19.22},{"x":1.1,"y":-19.1},{"x":1.1,"y":-18.98},{"x":1.1,"y":-18.86},{"x":1.1,"y":-18.74},
{"x":1.45,"y":-19.86},{"x":1.45,"y":-19.75},{"x":1.45,"y":-19.64},{"x":1.45,"y":-19.52},{"x":1.45,"y":-19.4},{"x":1.45,"y":-19.28},{"x":1.45,"y":-19.16},{"x":1.45,"y":-19.04},{"x":1.45,"y":-18.92},{"x":1.45,"y":-18.8},{"x":1.45,"y":-18.68},{"x":1.45,"y":-18.56},
{"x":1.8,"y":-19.8},{"x":1.8,"y":-19.7},{"x":1.8,"y":-19.6},{"x":1.8,"y":-19.5},{"x":1.8,"y":-19.4},{"x":1.8,"y":-19.3},{"x":1.8,"y":-19.2},{"x":1.8,"y":-19.1},{"x":1.8,"y":-19.0},{"x":1.8,"y":-18.9},{"x":1.8,"y":-18.8},{"x":1.8,"y":-18.7},{"x":1.8,"y":-18.6},{"x":1.8,"y":-18.5},
{"x":2.1,"y":-19.88},{"x":2.1,"y":-19.75},{"x":2.1,"y":-19.65},{"x":2.1,"y":-19.55},{"x":2.1,"y":-19.45},{"x":2.1,"y":-19.35},{"x":2.1,"y":-19.25},{"x":2.1,"y":-19.15},{"x":2.1,"y":-19.05},{"x":2.1,"y":-18.95},{"x":2.1,"y":-18.85},{"x":2.1,"y":-18.75},{"x":2.1,"y":-18.65},{"x":2.1,"y":-18.55},{"x":2.1,"y":-18.45},
{"x":2.4,"y":-19.85},{"x":2.4,"y":-19.74},{"x":2.4,"y":-19.64},{"x":2.4,"y":-19.54},{"x":2.4,"y":-19.44},{"x":2.4,"y":-19.34},{"x":2.4,"y":-19.24},{"x":2.4,"y":-19.14},{"x":2.4,"y":-19.04},{"x":2.4,"y":-18.94},{"x":2.4,"y":-18.84},{"x":2.4,"y":-18.74},{"x":2.4,"y":-18.64},{"x":2.4,"y":-18.54},{"x":2.4,"y":-18.44},
{"x":2.7,"y":-19.9},{"x":2.7,"y":-19.8},{"x":2.7,"y":-19.69},{"x":2.7,"y":-19.59},{"x":2.7,"y":-19.49},{"x":2.7,"y":-19.39},{"x":2.7,"y":-19.29},{"x":2.7,"y":-19.19},{"x":2.7,"y":-19.09},{"x":2.7,"y":-18.99},{"x":2.7,"y":-18.89},{"x":2.7,"y":-18.79},{"x":2.7,"y":-18.69},{"x":2.7,"y":-18.59},{"x":2.7,"y":-18.49},{"x":2.7,"y":-18.39},
{"x":3.0,"y":-19.78},{"x":3.0,"y":-19.67},{"x":3.0,"y":-19.56},{"x":3.0,"y":-19.45},{"x":3.0,"y":-19.34},{"x":3.0,"y":-19.23},{"x":3.0,"y":-19.12},{"x":3.0,"y":-19.01},{"x":3.0,"y":-18.9},{"x":3.0,"y":-18.79},{"x":3.0,"y":-18.68},{"x":3.0,"y":-18.57},{"x":3.0,"y":-18.46},{"x":3.0,"y":-18.35},
{"x":3.3,"y":-19.87},{"x":3.3,"y":-19.73},{"x":3.3,"y":-19.62},{"x":3.3,"y":-19.51},{"x":3.3,"y":-19.4},{"x":3.3,"y":-19.29},{"x":3.3,"y":-19.18},{"x":3.3,"y":-19.07},{"x":3.3,"y":-18.96},{"x":3.3,"y":-18.85},{"x":3.3,"y":-18.74},{"x":3.3,"y":-18.63},{"x":3.3,"y":-18.52},{"x":3.3,"y":-18.41},{"x":3.3,"y":-18.3},
{"x":3.6,"y":-19.94},{"x":3.6,"y":-19.8},{"x":3.6,"y":-19.68},{"x":3.6,"y":-19.56},{"x":3.6,"y":-19.44},{"x":3.6,"y":-19.32},{"x":3.6,"y":-19.2},{"x":3.6,"y":-19.08},{"x":3.6,"y":-18.96},{"x":3.6,"y":-18.84},{"x":3.6,"y":-18.72},{"x":3.6,"y":-18.6},{"x":3.6,"y":-18.48},{"x":3.6,"y":-18.36},
{"x":3.95,"y":-19.88},{"x":3.95,"y":-19.74},{"x":3.95,"y":-19.62},{"x":3.95,"y":-19.5},{"x":3.95,"y":-19.38},{"x":3.95,"y":-19.26},{"x":3.95,"y":-19.14},{"x":3.95,"y":-19.02},{"x":3.95,"y":-18.9},{"x":3.95,"y":-18.78},{"x":3.95,"y":-18.66},{"x":3.95,"y":-18.54},{"x":3.95,"y":-18.42},{"x":3.95,"y":-18.3},
{"x":4.3,"y":-19.92},{"x":4.3,"y":-19.78},{"x":4.3,"y":-19.64},{"x":4.3,"y":-19.5},{"x":4.3,"y":-19.36},{"x":4.3,"y":-19.22},{"x":4.3,"y":-19.08},{"x":4.3,"y":-18.94},{"x":4.3,"y":-18.8},{"x":4.3,"y":-18.66},{"x":4.3,"y":-18.52},{"x":4.3,"y":-18.38},{"x":4.3,"y":-18.24},
{"x":4.6,"y":-19.85},{"x":4.6,"y":-19.71},{"x":4.6,"y":-19.57},{"x":4.6,"y":-19.43},{"x":4.6,"y":-19.29},{"x":4.6,"y":-19.15},{"x":4.6,"y":-19.01},{"x":4.6,"y":-18.87},{"x":4.6,"y":-18.73},{"x":4.6,"y":-18.59},{"x":4.6,"y":-18.45},{"x":4.6,"y":-18.31},{"x":4.6,"y":-18.2},
{"x":-9.0,"y":-19.63},{"x":-9.0,"y":-19.44},{"x":-9.0,"y":-19.25},{"x":-9.0,"y":-19.06},{"x":-9.0,"y":-18.87},{"x":-9.0,"y":-18.68},
{"x":-8.6,"y":-19.54},{"x":-8.6,"y":-19.35},{"x":-8.6,"y":-19.16},{"x":-8.6,"y":-18.97},{"x":-8.6,"y":-18.78},{"x":-8.6,"y":-18.59},
{"x":-8.1,"y":-19.63},{"x":-8.1,"y":-19.44},{"x":-8.1,"y":-19.25},{"x":-8.1,"y":-19.06},{"x":-8.1,"y":-18.87},{"x":-8.1,"y":-18.68},
{"x":-7.6,"y":-19.54},{"x":-7.6,"y":-19.35},{"x":-7.6,"y":-19.16},{"x":-7.6,"y":-18.97},{"x":-7.6,"y":-18.78},{"x":-7.6,"y":-18.59},
{"x":-7.1,"y":-19.63},{"x":-7.1,"y":-19.44},{"x":-7.1,"y":-19.25},{"x":-7.1,"y":-19.06},{"x":-7.1,"y":-18.87},{"x":-7.1,"y":-18.68},
{"x":-6.6,"y":-19.54},{"x":-6.6,"y":-19.35},{"x":-6.6,"y":-19.16},{"x":-6.6,"y":-18.97},{"x":-6.6,"y":-18.78},{"x":-6.6,"y":-18.59},
{"x":-6.1,"y":-19.63},{"x":-6.1,"y":-19.44},{"x":-6.1,"y":-19.25},{"x":-6.1,"y":-19.06},{"x":-6.1,"y":-18.87},{"x":-6.1,"y":-18.68},
{"x":-5.5,"y":-19.54},{"x":-5.5,"y":-19.35},{"x":-5.5,"y":-19.16},{"x":-5.5,"y":-18.97},{"x":-5.5,"y":-18.78},{"x":-5.5,"y":-18.59},
{"x":-4.9,"y":-19.63},{"x":-4.9,"y":-19.44},{"x":-4.9,"y":-19.25},{"x":-4.9,"y":-19.06},{"x":-4.9,"y":-18.87},{"x":-4.9,"y":-18.68},
{"x":-4.4,"y":-19.54},{"x":-4.4,"y":-19.35},{"x":-4.4,"y":-19.16},{"x":-4.4,"y":-18.97},{"x":-4.4,"y":-18.78},{"x":-4.4,"y":-18.59},
{"x":-3.8,"y":-19.63},{"x":-3.8,"y":-19.44},{"x":-3.8,"y":-19.25},{"x":-3.8,"y":-19.06},{"x":-3.8,"y":-18.87},{"x":-3.8,"y":-18.68},
{"x":-3.2,"y":-19.54},{"x":-3.2,"y":-19.35},{"x":-3.2,"y":-19.16},{"x":-3.2,"y":-18.97},{"x":-3.2,"y":-18.78},{"x":-3.2,"y":-18.59},
{"x":-2.7,"y":-19.63},{"x":-2.7,"y":-19.44},{"x":-2.7,"y":-19.25},{"x":-2.7,"y":-19.06},{"x":-2.7,"y":-18.87},{"x":-2.7,"y":-18.68},
{"x":-2.2,"y":-19.54},{"x":-2.2,"y":-19.35},{"x":-2.2,"y":-19.16},{"x":-2.2,"y":-18.97},{"x":-2.2,"y":-18.78},{"x":-2.2,"y":-18.59},
{"x":-1.6,"y":-19.63},{"x":-1.6,"y":-19.44},{"x":-1.6,"y":-19.25},{"x":-1.6,"y":-19.06},{"x":-1.6,"y":-18.87},{"x":-1.6,"y":-18.68},
{"x":-1.1,"y":-19.54},{"x":-1.1,"y":-19.35},{"x":-1.1,"y":-19.16},{"x":-1.1,"y":-18.97},{"x":-1.1,"y":-18.78},
{"x":-0.4,"y":-19.63},{"x":-0.4,"y":-19.44},{"x":-0.4,"y":-19.25},{"x":-0.4,"y":-19.06},{"x":-0.4,"y":-18.87},
{"x":0.3,"y":-19.54},{"x":0.3,"y":-19.35},{"x":0.3,"y":-19.16},{"x":0.3,"y":-18.97},{"x":0.3,"y":-18.8},
{"x":0.9,"y":-19.63},{"x":0.9,"y":-19.44},{"x":0.9,"y":-19.25},{"x":0.9,"y":-19.06},{"x":0.9,"y":-18.87},
{"x":1.6,"y":-19.54},{"x":1.6,"y":-19.35},{"x":1.6,"y":-19.16},{"x":1.6,"y":-18.97},{"x":1.6,"y":-18.78},{"x":1.6,"y":-18.59},
{"x":2.2,"y":-19.63},{"x":2.2,"y":-19.44},{"x":2.2,"y":-19.25},{"x":2.2,"y":-19.06},{"x":2.2,"y":-18.87},{"x":2.2,"y":-18.68},
{"x":2.9,"y":-19.54},{"x":2.9,"y":-19.35},{"x":2.9,"y":-19.16},{"x":2.9,"y":-18.97},{"x":2.9,"y":-18.78},{"x":2.9,"y":-18.59},
{"x":3.4,"y":-19.63},{"x":3.4,"y":-19.44},{"x":3.4,"y":-19.25},{"x":3.4,"y":-19.06},{"x":3.4,"y":-18.87},{"x":3.4,"y":-18.68},
{"x":4.0,"y":-19.54},{"x":4.0,"y":-19.35},{"x":4.0,"y":-19.16},{"x":4.0,"y":-18.97},{"x":4.0,"y":-18.78},{"x":4.0,"y":-18.59},
{"x":4.6,"y":-19.63},{"x":4.6,"y":-19.44},{"x":4.6,"y":-19.25},{"x":4.6,"y":-19.06},{"x":4.6,"y":-18.87},{"x":4.6,"y":-18.68},
{"x":0.2,"y":-18.13},{"x":2.5,"y":-18.11},{"x":2.5,"y":-17.97},{"x":2.8,"y":-17.84},{"x":0.8,"y":-18.45},{"x":-0.3,"y":-18.3},{"x":1.5,"y":-18.25},
{"x":3.6,"y":-17.36},{"x":4.7,"y":-17.27},{"x":2.5,"y":-17.24},{"x":0.1,"y":-17.05},{"x":3.9,"y":-17.05},{"x":1.2,"y":-17.55},{"x":2.0,"y":-17.7},{"x":3.4,"y":-17.6},
{"x":4.9,"y":-19.72},{"x":4.9,"y":-19.6},{"x":4.9,"y":-19.48},{"x":4.9,"y":-19.36},{"x":4.9,"y":-19.24},{"x":4.9,"y":-19.12},{"x":4.9,"y":-19.0},{"x":4.9,"y":-18.88},{"x":4.9,"y":-18.76},{"x":4.9,"y":-18.64},{"x":4.9,"y":-18.52},{"x":4.9,"y":-18.4},{"x":4.9,"y":-18.28},{"x":4.9,"y":-18.16},
{"x":5.2,"y":-19.78},{"x":5.2,"y":-19.64},{"x":5.2,"y":-19.5},{"x":5.2,"y":-19.37},{"x":5.2,"y":-19.24},{"x":5.2,"y":-19.11},{"x":5.2,"y":-18.98},{"x":5.2,"y":-18.85},{"x":5.2,"y":-18.72},{"x":5.2,"y":-18.59},{"x":5.2,"y":-18.46},{"x":5.2,"y":-18.33},{"x":5.2,"y":-18.2},{"x":5.2,"y":-18.08},
{"x":5.5,"y":-19.7},{"x":5.5,"y":-19.57},{"x":5.5,"y":-19.44},{"x":5.5,"y":-19.31},{"x":5.5,"y":-19.18},{"x":5.5,"y":-19.05},{"x":5.5,"y":-18.92},{"x":5.5,"y":-18.79},{"x":5.5,"y":-18.66},{"x":5.5,"y":-18.53},{"x":5.5,"y":-18.4},{"x":5.5,"y":-18.27},{"x":5.5,"y":-18.14},
{"x":5.8,"y":-19.75},{"x":5.8,"y":-19.63},{"x":5.8,"y":-19.5},{"x":5.8,"y":-19.38},{"x":5.8,"y":-19.26},{"x":5.8,"y":-19.14},{"x":5.8,"y":-19.02},{"x":5.8,"y":-18.9},{"x":5.8,"y":-18.78},{"x":5.8,"y":-18.66},{"x":5.8,"y":-18.54},{"x":5.8,"y":-18.42},{"x":5.8,"y":-18.3},{"x":5.8,"y":-18.18},
{"x":6.1,"y":-19.68},{"x":6.1,"y":-19.56},{"x":6.1,"y":-19.44},{"x":6.1,"y":-19.32},{"x":6.1,"y":-19.2},{"x":6.1,"y":-19.08},{"x":6.1,"y":-18.96},{"x":6.1,"y":-18.84},{"x":6.1,"y":-18.72},{"x":6.1,"y":-18.6},{"x":6.1,"y":-18.48},{"x":6.1,"y":-18.36},{"x":6.1,"y":-18.24},{"x":6.1,"y":-18.12},
{"x":6.4,"y":-19.73},{"x":6.4,"y":-19.6},{"x":6.4,"y":-19.47},{"x":6.4,"y":-19.34},{"x":6.4,"y":-19.21},{"x":6.4,"y":-19.08},{"x":6.4,"y":-18.95},{"x":6.4,"y":-18.82},{"x":6.4,"y":-18.69},{"x":6.4,"y":-18.56},{"x":6.4,"y":-18.43},{"x":6.4,"y":-18.3},{"x":6.4,"y":-18.17},{"x":6.4,"y":-18.05},
{"x":6.7,"y":-19.66},{"x":6.7,"y":-19.53},{"x":6.7,"y":-19.4},{"x":6.7,"y":-19.27},{"x":6.7,"y":-19.14},{"x":6.7,"y":-19.01},{"x":6.7,"y":-18.88},{"x":6.7,"y":-18.75},{"x":6.7,"y":-18.62},{"x":6.7,"y":-18.49},{"x":6.7,"y":-18.36},{"x":6.7,"y":-18.23},{"x":6.7,"y":-18.1},
{"x":7.0,"y":-19.71},{"x":7.0,"y":-19.58},{"x":7.0,"y":-19.46},{"x":7.0,"y":-19.34},{"x":7.0,"y":-19.22},{"x":7.0,"y":-19.1},{"x":7.0,"y":-18.98},{"x":7.0,"y":-18.86},{"x":7.0,"y":-18.74},{"x":7.0,"y":-18.62},{"x":7.0,"y":-18.5},{"x":7.0,"y":-18.38},{"x":7.0,"y":-18.26},{"x":7.0,"y":-18.14},{"x":7.0,"y":-18.02},
{"x":7.3,"y":-19.64},{"x":7.3,"y":-19.52},{"x":7.3,"y":-19.4},{"x":7.3,"y":-19.28},{"x":7.3,"y":-19.16},{"x":7.3,"y":-19.04},{"x":7.3,"y":-18.92},{"x":7.3,"y":-18.8},{"x":7.3,"y":-18.68},{"x":7.3,"y":-18.56},{"x":7.3,"y":-18.44},{"x":7.3,"y":-18.32},{"x":7.3,"y":-18.2},{"x":7.3,"y":-18.08},
{"x":7.6,"y":-19.69},{"x":7.6,"y":-19.56},{"x":7.6,"y":-19.43},{"x":7.6,"y":-19.3},{"x":7.6,"y":-19.17},{"x":7.6,"y":-19.04},{"x":7.6,"y":-18.91},{"x":7.6,"y":-18.78},{"x":7.6,"y":-18.65},{"x":7.6,"y":-18.52},{"x":7.6,"y":-18.39},{"x":7.6,"y":-18.26},{"x":7.6,"y":-18.14},{"x":7.6,"y":-18.0},
{"x":7.9,"y":-19.62},{"x":7.9,"y":-19.5},{"x":7.9,"y":-19.37},{"x":7.9,"y":-19.24},{"x":7.9,"y":-19.11},{"x":7.9,"y":-18.98},{"x":7.9,"y":-18.85},{"x":7.9,"y":-18.72},{"x":7.9,"y":-18.59},{"x":7.9,"y":-18.46},{"x":7.9,"y":-18.33},{"x":7.9,"y":-18.2},{"x":7.9,"y":-18.07},
{"x":8.2,"y":-19.67},{"x":8.2,"y":-19.54},{"x":8.2,"y":-19.41},{"x":8.2,"y":-19.28},{"x":8.2,"y":-19.15},{"x":8.2,"y":-19.02},{"x":8.2,"y":-18.89},{"x":8.2,"y":-18.76},{"x":8.2,"y":-18.63},{"x":8.2,"y":-18.5},{"x":8.2,"y":-18.37},{"x":8.2,"y":-18.24},{"x":8.2,"y":-18.11},{"x":8.2,"y":-17.98},
{"x":8.5,"y":-19.6},{"x":8.5,"y":-19.47},{"x":8.5,"y":-19.34},{"x":8.5,"y":-19.21},{"x":8.5,"y":-19.08},{"x":8.5,"y":-18.95},{"x":8.5,"y":-18.82},{"x":8.5,"y":-18.69},{"x":8.5,"y":-18.56},{"x":8.5,"y":-18.43},{"x":8.5,"y":-18.3},{"x":8.5,"y":-18.17},{"x":8.5,"y":-18.04},
{"x":8.85,"y":-19.65},{"x":8.85,"y":-19.52},{"x":8.85,"y":-19.39},{"x":8.85,"y":-19.26},{"x":8.85,"y":-19.13},{"x":8.85,"y":-19.0},{"x":8.85,"y":-18.87},{"x":8.85,"y":-18.74},{"x":8.85,"y":-18.61},{"x":8.85,"y":-18.48},{"x":8.85,"y":-18.35},{"x":8.85,"y":-18.22},{"x":8.85,"y":-18.09},{"x":8.85,"y":-17.97},
{"x":9.2,"y":-19.58},{"x":9.2,"y":-19.45},{"x":9.2,"y":-19.32},{"x":9.2,"y":-19.19},{"x":9.2,"y":-19.06},{"x":9.2,"y":-18.93},{"x":9.2,"y":-18.8},{"x":9.2,"y":-18.67},{"x":9.2,"y":-18.54},{"x":9.2,"y":-18.41},{"x":9.2,"y":-18.28},{"x":9.2,"y":-18.15},{"x":9.2,"y":-18.02},
{"x":9.5,"y":-19.64},{"x":9.5,"y":-19.52},{"x":9.5,"y":-19.39},{"x":9.5,"y":-19.26},{"x":9.5,"y":-19.13},{"x":9.5,"y":-19.0},{"x":9.5,"y":-18.87},{"x":9.5,"y":-18.74},{"x":9.5,"y":-18.61},{"x":9.5,"y":-18.48},{"x":9.5,"y":-18.35},{"x":9.5,"y":-18.22},{"x":9.5,"y":-18.1},{"x":9.5,"y":-17.98},
{"x":9.8,"y":-19.62},{"x":9.8,"y":-19.48},{"x":9.8,"y":-19.35},{"x":9.8,"y":-19.22},{"x":9.8,"y":-19.09},{"x":9.8,"y":-18.96},{"x":9.8,"y":-18.83},{"x":9.8,"y":-18.7},{"x":9.8,"y":-18.57},{"x":9.8,"y":-18.44},{"x":9.8,"y":-18.31},{"x":9.8,"y":-18.18},{"x":9.8,"y":-18.05},{"x":9.8,"y":-17.95},
{"x":5.4,"y":-17.89},{"x":8.4,"y":-17.89},{"x":8.4,"y":-17.73},{"x":5.8,"y":-17.66},{"x":6.9,"y":-17.58},{"x":5.8,"y":-17.16},{"x":6.9,"y":-17.05},{"x":7.5,"y":-17.35},{"x":9.0,"y":-17.45},{"x":4.5,"y":-17.5},{"x":6.2,"y":-17.78},{"x":9.5,"y":-17.6},
{"x":10.5,"y":-19.6},{"x":10.5,"y":-19.47},{"x":10.5,"y":-19.34},{"x":10.5,"y":-19.21},{"x":10.5,"y":-19.08},{"x":10.5,"y":-18.95},{"x":10.5,"y":-18.82},{"x":10.5,"y":-18.69},{"x":10.5,"y":-18.56},{"x":10.5,"y":-18.43},{"x":10.5,"y":-18.3},{"x":10.5,"y":-18.17},{"x":10.5,"y":-18.04},{"x":10.5,"y":-17.93},
{"x":10.85,"y":-19.62},{"x":10.85,"y":-19.5},{"x":10.85,"y":-19.37},{"x":10.85,"y":-19.24},{"x":10.85,"y":-19.11},{"x":10.85,"y":-18.98},{"x":10.85,"y":-18.85},{"x":10.85,"y":-18.72},{"x":10.85,"y":-18.59},{"x":10.85,"y":-18.46},{"x":10.85,"y":-18.33},{"x":10.85,"y":-18.2},{"x":10.85,"y":-18.08},{"x":10.85,"y":-17.96},
{"x":11.2,"y":-19.55},{"x":11.2,"y":-19.42},{"x":11.2,"y":-19.29},{"x":11.2,"y":-19.16},{"x":11.2,"y":-19.03},{"x":11.2,"y":-18.9},{"x":11.2,"y":-18.77},{"x":11.2,"y":-18.64},{"x":11.2,"y":-18.51},{"x":11.2,"y":-18.38},{"x":11.2,"y":-18.25},{"x":11.2,"y":-18.12},{"x":11.2,"y":-17.99},
{"x":11.55,"y":-19.6},{"x":11.55,"y":-19.48},{"x":11.55,"y":-19.35},{"x":11.55,"y":-19.22},{"x":11.55,"y":-19.09},{"x":11.55,"y":-18.96},{"x":11.55,"y":-18.83},{"x":11.55,"y":-18.7},{"x":11.55,"y":-18.57},{"x":11.55,"y":-18.44},{"x":11.55,"y":-18.31},{"x":11.55,"y":-18.18},{"x":11.55,"y":-18.05},{"x":11.55,"y":-17.93},
{"x":11.9,"y":-19.58},{"x":11.9,"y":-19.45},{"x":11.9,"y":-19.32},{"x":11.9,"y":-19.19},{"x":11.9,"y":-19.06},{"x":11.9,"y":-18.93},{"x":11.9,"y":-18.8},{"x":11.9,"y":-18.67},{"x":11.9,"y":-18.54},{"x":11.9,"y":-18.41},{"x":11.9,"y":-18.28},{"x":11.9,"y":-18.15},{"x":11.9,"y":-18.02},
{"x":12.25,"y":-19.54},{"x":12.25,"y":-19.41},{"x":12.25,"y":-19.28},{"x":12.25,"y":-19.15},{"x":12.25,"y":-19.02},{"x":12.25,"y":-18.89},{"x":12.25,"y":-18.76},{"x":12.25,"y":-18.63},{"x":12.25,"y":-18.5},{"x":12.25,"y":-18.37},{"x":12.25,"y":-18.24},{"x":12.25,"y":-18.11},{"x":12.25,"y":-17.99},
{"x":12.6,"y":-19.5},{"x":12.6,"y":-19.37},{"x":12.6,"y":-19.24},{"x":12.6,"y":-19.11},{"x":12.6,"y":-18.98},{"x":12.6,"y":-18.85},{"x":12.6,"y":-18.72},{"x":12.6,"y":-18.59},{"x":12.6,"y":-18.46},{"x":12.6,"y":-18.33},{"x":12.6,"y":-18.2},{"x":12.6,"y":-18.07},{"x":12.6,"y":-17.96},
{"x":12.95,"y":-19.52},{"x":12.95,"y":-19.42},{"x":12.95,"y":-19.3},{"x":12.95,"y":-19.18},{"x":12.95,"y":-19.06},{"x":12.95,"y":-18.94},{"x":12.95,"y":-18.82},{"x":12.95,"y":-18.7},{"x":12.95,"y":-18.58},{"x":12.95,"y":-18.46},{"x":12.95,"y":-18.34},{"x":12.95,"y":-18.22},{"x":12.95,"y":-18.1},{"x":12.95,"y":-17.98},
{"x":13.3,"y":-19.48},{"x":13.3,"y":-19.36},{"x":13.3,"y":-19.24},{"x":13.3,"y":-19.12},{"x":13.3,"y":-19.0},{"x":13.3,"y":-18.88},{"x":13.3,"y":-18.76},{"x":13.3,"y":-18.64},{"x":13.3,"y":-18.52},{"x":13.3,"y":-18.4},{"x":13.3,"y":-18.28},{"x":13.3,"y":-18.16},{"x":13.3,"y":-18.04},
{"x":13.65,"y":-19.5},{"x":13.65,"y":-19.39},{"x":13.65,"y":-19.27},{"x":13.65,"y":-19.15},{"x":13.65,"y":-19.03},{"x":13.65,"y":-18.91},{"x":13.65,"y":-18.79},{"x":13.65,"y":-18.67},{"x":13.65,"y":-18.55},{"x":13.65,"y":-18.43},{"x":13.65,"y":-18.31},{"x":13.65,"y":-18.19},{"x":13.65,"y":-18.07},{"x":13.65,"y":-17.96},
{"x":14.0,"y":-19.45},{"x":14.0,"y":-19.33},{"x":14.0,"y":-19.21},{"x":14.0,"y":-19.09},{"x":14.0,"y":-18.97},{"x":14.0,"y":-18.85},{"x":14.0,"y":-18.73},{"x":14.0,"y":-18.61},{"x":14.0,"y":-18.49},{"x":14.0,"y":-18.37},{"x":14.0,"y":-18.25},{"x":14.0,"y":-18.13},{"x":14.0,"y":-18.01},
{"x":14.35,"y":-19.47},{"x":14.35,"y":-19.36},{"x":14.35,"y":-19.24},{"x":14.35,"y":-19.12},{"x":14.35,"y":-19.0},{"x":14.35,"y":-18.88},{"x":14.35,"y":-18.76},{"x":14.35,"y":-18.64},{"x":14.35,"y":-18.52},{"x":14.35,"y":-18.4},{"x":14.35,"y":-18.28},{"x":14.35,"y":-18.16},{"x":14.35,"y":-18.04},
{"x":14.7,"y":-19.42},{"x":14.7,"y":-19.3},{"x":14.7,"y":-19.18},{"x":14.7,"y":-19.06},{"x":14.7,"y":-18.94},{"x":14.7,"y":-18.82},{"x":14.7,"y":-18.7},{"x":14.7,"y":-18.58},{"x":14.7,"y":-18.46},{"x":14.7,"y":-18.34},{"x":14.7,"y":-18.22},{"x":14.7,"y":-18.1},{"x":14.7,"y":-17.98},
{"x":15.05,"y":-19.44},{"x":15.05,"y":-19.33},{"x":15.05,"y":-19.21},{"x":15.05,"y":-19.09},{"x":15.05,"y":-18.97},{"x":15.05,"y":-18.85},{"x":15.05,"y":-18.73},{"x":15.05,"y":-18.61},{"x":15.05,"y":-18.49},{"x":15.05,"y":-18.37},{"x":15.05,"y":-18.25},{"x":15.05,"y":-18.13},{"x":15.05,"y":-18.01},
{"x":15.4,"y":-19.39},{"x":15.4,"y":-19.27},{"x":15.4,"y":-19.15},{"x":15.4,"y":-19.03},{"x":15.4,"y":-18.91},{"x":15.4,"y":-18.79},{"x":15.4,"y":-18.67},{"x":15.4,"y":-18.55},{"x":15.4,"y":-18.43},{"x":15.4,"y":-18.31},{"x":15.4,"y":-18.19},{"x":15.4,"y":-18.07},
{"x":15.75,"y":-19.42},{"x":15.75,"y":-19.32},{"x":15.75,"y":-19.2},{"x":15.75,"y":-19.08},{"x":15.75,"y":-18.96},{"x":15.75,"y":-18.84},{"x":15.75,"y":-18.72},{"x":15.75,"y":-18.6},{"x":15.75,"y":-18.48},{"x":15.75,"y":-18.36},{"x":15.75,"y":-18.24},{"x":15.75,"y":-18.12},{"x":15.75,"y":-18.0},
{"x":16.1,"y":-19.38},{"x":16.1,"y":-19.26},{"x":16.1,"y":-19.14},{"x":16.1,"y":-19.02},{"x":16.1,"y":-18.9},{"x":16.1,"y":-18.78},{"x":16.1,"y":-18.66},{"x":16.1,"y":-18.54},{"x":16.1,"y":-18.42},{"x":16.1,"y":-18.3},{"x":16.1,"y":-18.18},{"x":16.1,"y":-18.06},{"x":16.1,"y":-17.95},
{"x":16.45,"y":-19.36},{"x":16.45,"y":-19.24},{"x":16.45,"y":-19.12},{"x":16.45,"y":-19.0},{"x":16.45,"y":-18.88},{"x":16.45,"y":-18.76},{"x":16.45,"y":-18.64},{"x":16.45,"y":-18.52},{"x":16.45,"y":-18.4},{"x":16.45,"y":-18.28},{"x":16.45,"y":-18.16},{"x":16.45,"y":-18.04},{"x":16.45,"y":-17.92},
{"x":16.8,"y":-19.32},{"x":16.8,"y":-19.2},{"x":16.8,"y":-19.08},{"x":16.8,"y":-18.96},{"x":16.8,"y":-18.84},{"x":16.8,"y":-18.72},{"x":16.8,"y":-18.6},{"x":16.8,"y":-18.48},{"x":16.8,"y":-18.36},{"x":16.8,"y":-18.24},{"x":16.8,"y":-18.12},{"x":16.8,"y":-18.0},
{"x":17.15,"y":-19.34},{"x":17.15,"y":-19.22},{"x":17.15,"y":-19.1},{"x":17.15,"y":-18.98},{"x":17.15,"y":-18.86},{"x":17.15,"y":-18.74},{"x":17.15,"y":-18.62},{"x":17.15,"y":-18.5},{"x":17.15,"y":-18.38},{"x":17.15,"y":-18.26},{"x":17.15,"y":-18.14},{"x":17.15,"y":-18.02},{"x":17.15,"y":-17.9},
{"x":17.5,"y":-19.58},{"x":17.5,"y":-19.28},{"x":17.5,"y":-19.16},{"x":17.5,"y":-19.04},{"x":17.5,"y":-18.92},{"x":17.5,"y":-18.8},{"x":17.5,"y":-18.68},{"x":17.5,"y":-18.56},{"x":17.5,"y":-18.44},{"x":17.5,"y":-18.32},{"x":17.5,"y":-18.2},{"x":17.5,"y":-18.08},{"x":17.5,"y":-17.96},
{"x":17.85,"y":-19.3},{"x":17.85,"y":-19.19},{"x":17.85,"y":-19.07},{"x":17.85,"y":-18.95},{"x":17.85,"y":-18.83},{"x":17.85,"y":-18.71},{"x":17.85,"y":-18.59},{"x":17.85,"y":-18.47},{"x":17.85,"y":-18.35},{"x":17.85,"y":-18.23},{"x":17.85,"y":-18.11},{"x":17.85,"y":-17.99},
{"x":18.2,"y":-19.25},{"x":18.2,"y":-19.13},{"x":18.2,"y":-19.01},{"x":18.2,"y":-18.89},{"x":18.2,"y":-18.77},{"x":18.2,"y":-18.65},{"x":18.2,"y":-18.53},{"x":18.2,"y":-18.41},{"x":18.2,"y":-18.29},{"x":18.2,"y":-18.17},{"x":18.2,"y":-18.05},{"x":18.2,"y":-17.93},
{"x":18.55,"y":-19.28},{"x":18.55,"y":-19.18},{"x":18.55,"y":-19.06},{"x":18.55,"y":-18.94},{"x":18.55,"y":-18.82},{"x":18.55,"y":-18.7},{"x":18.55,"y":-18.58},{"x":18.55,"y":-18.46},{"x":18.55,"y":-18.34},{"x":18.55,"y":-18.22},{"x":18.55,"y":-18.1},{"x":18.55,"y":-17.98},{"x":18.55,"y":-17.87},
{"x":18.9,"y":-19.24},{"x":18.9,"y":-19.12},{"x":18.9,"y":-19.0},{"x":18.9,"y":-18.88},{"x":18.9,"y":-18.76},{"x":18.9,"y":-18.64},{"x":18.9,"y":-18.52},{"x":18.9,"y":-18.4},{"x":18.9,"y":-18.28},{"x":18.9,"y":-18.16},{"x":18.9,"y":-18.04},{"x":18.9,"y":-17.92},
{"x":19.25,"y":-19.25},{"x":19.25,"y":-19.14},{"x":19.25,"y":-19.02},{"x":19.25,"y":-18.9},{"x":19.25,"y":-18.78},{"x":19.25,"y":-18.66},{"x":19.25,"y":-18.54},{"x":19.25,"y":-18.42},{"x":19.25,"y":-18.3},{"x":19.25,"y":-18.18},{"x":19.25,"y":-18.06},{"x":19.25,"y":-17.94},
{"x":19.6,"y":-19.2},{"x":19.6,"y":-19.08},{"x":19.6,"y":-18.96},{"x":19.6,"y":-18.84},{"x":19.6,"y":-18.72},{"x":19.6,"y":-18.6},{"x":19.6,"y":-18.48},{"x":19.6,"y":-18.36},{"x":19.6,"y":-18.24},{"x":19.6,"y":-18.12},{"x":19.6,"y":-18.0},{"x":19.6,"y":-17.88},
{"x":19.95,"y":-19.22},{"x":19.95,"y":-19.12},{"x":19.95,"y":-19.0},{"x":19.95,"y":-18.88},{"x":19.95,"y":-18.76},{"x":19.95,"y":-18.64},{"x":19.95,"y":-18.52},{"x":19.95,"y":-18.4},{"x":19.95,"y":-18.28},{"x":19.95,"y":-18.16},{"x":19.95,"y":-18.04},{"x":19.95,"y":-17.92},{"x":19.95,"y":-17.82},
{"x":13.7,"y":-18.7},{"x":14.4,"y":-18.55},{"x":15.1,"y":-18.4},{"x":15.8,"y":-18.6},{"x":16.5,"y":-18.45},{"x":17.2,"y":-18.3},{"x":17.9,"y":-18.5},{"x":18.6,"y":-18.35},{"x":19.3,"y":-18.55},{"x":14.1,"y":-18.3},{"x":15.5,"y":-18.85},{"x":16.9,"y":-18.7},{"x":18.0,"y":-18.8},{"x":19.0,"y":-18.45},{"x":13.0,"y":-18.5},{"x":14.8,"y":-18.45},{"x":16.3,"y":-18.25},{"x":17.6,"y":-18.65},{"x":19.8,"y":-18.3},{"x":12.2,"y":-18.75},
{"x":12.4,"y":-19.35},{"x":12.4,"y":-19.16},{"x":12.4,"y":-18.97},{"x":12.4,"y":-18.78},{"x":12.4,"y":-18.59},{"x":12.4,"y":-18.4},{"x":12.4,"y":-18.21},
{"x":13.1,"y":-19.26},{"x":13.1,"y":-19.07},{"x":13.1,"y":-18.88},{"x":13.1,"y":-18.69},{"x":13.1,"y":-18.5},{"x":13.1,"y":-18.31},{"x":13.1,"y":-18.12},
{"x":13.8,"y":-19.3},{"x":13.8,"y":-19.11},{"x":13.8,"y":-18.92},{"x":13.8,"y":-18.73},{"x":13.8,"y":-18.54},{"x":13.8,"y":-18.35},{"x":13.8,"y":-18.16},
{"x":14.5,"y":-19.22},{"x":14.5,"y":-19.03},{"x":14.5,"y":-18.84},{"x":14.5,"y":-18.65},{"x":14.5,"y":-18.46},{"x":14.5,"y":-18.27},{"x":14.5,"y":-18.08},
{"x":15.2,"y":-19.25},{"x":15.2,"y":-19.06},{"x":15.2,"y":-18.87},{"x":15.2,"y":-18.68},{"x":15.2,"y":-18.49},{"x":15.2,"y":-18.3},{"x":15.2,"y":-18.11},
{"x":15.9,"y":-19.17},{"x":15.9,"y":-18.98},{"x":15.9,"y":-18.79},{"x":15.9,"y":-18.6},{"x":15.9,"y":-18.41},{"x":15.9,"y":-18.22},{"x":15.9,"y":-18.03},
{"x":16.6,"y":-19.18},{"x":16.6,"y":-18.99},{"x":16.6,"y":-18.8},{"x":16.6,"y":-18.61},{"x":16.6,"y":-18.42},{"x":16.6,"y":-18.23},{"x":16.6,"y":-18.04},
{"x":17.3,"y":-19.1},{"x":17.3,"y":-18.91},{"x":17.3,"y":-18.72},{"x":17.3,"y":-18.53},{"x":17.3,"y":-18.34},{"x":17.3,"y":-18.15},{"x":17.3,"y":-17.96},
{"x":18.0,"y":-19.12},{"x":18.0,"y":-18.93},{"x":18.0,"y":-18.74},{"x":18.0,"y":-18.55},{"x":18.0,"y":-18.36},{"x":18.0,"y":-18.17},{"x":18.0,"y":-17.98},
{"x":18.7,"y":-19.04},{"x":18.7,"y":-18.85},{"x":18.7,"y":-18.66},{"x":18.7,"y":-18.47},{"x":18.7,"y":-18.28},{"x":18.7,"y":-18.09},{"x":18.7,"y":-17.95},
{"x":19.4,"y":-19.06},{"x":19.4,"y":-18.87},{"x":19.4,"y":-18.68},{"x":19.4,"y":-18.49},{"x":19.4,"y":-18.3},{"x":19.4,"y":-18.11},{"x":19.4,"y":-17.92},
{"x":20.1,"y":-18.98},{"x":20.1,"y":-18.79},{"x":20.1,"y":-18.6},{"x":20.1,"y":-18.41},{"x":20.1,"y":-18.22},{"x":20.1,"y":-18.03},{"x":20.1,"y":-17.88},
{"x":20.8,"y":-19.0},{"x":20.8,"y":-18.81},{"x":20.8,"y":-18.62},{"x":20.8,"y":-18.43},{"x":20.8,"y":-18.24},{"x":20.8,"y":-18.05},{"x":20.8,"y":-17.86},
{"x":21.5,"y":-18.93},{"x":21.5,"y":-18.74},{"x":21.5,"y":-18.55},{"x":21.5,"y":-18.36},{"x":21.5,"y":-18.17},{"x":21.5,"y":-17.98},{"x":21.5,"y":-17.82},
{"x":22.2,"y":-18.95},{"x":22.2,"y":-18.76},{"x":22.2,"y":-18.57},{"x":22.2,"y":-18.38},{"x":22.2,"y":-18.19},{"x":22.2,"y":-18.0},{"x":22.2,"y":-17.81},
{"x":22.9,"y":-18.88},{"x":22.9,"y":-18.69},{"x":22.9,"y":-18.5},{"x":22.9,"y":-18.31},{"x":22.9,"y":-18.12},{"x":22.9,"y":-17.93},{"x":22.9,"y":-17.74},
{"x":23.6,"y":-18.9},{"x":23.6,"y":-18.71},{"x":23.6,"y":-18.52},{"x":23.6,"y":-18.33},{"x":23.6,"y":-18.14},{"x":23.6,"y":-17.95},{"x":23.6,"y":-17.76},
{"x":24.3,"y":-18.82},{"x":24.3,"y":-18.63},{"x":24.3,"y":-18.44},{"x":24.3,"y":-18.25},{"x":24.3,"y":-18.06},{"x":24.3,"y":-17.87},{"x":24.3,"y":-17.68},
{"x":25.0,"y":-18.85},{"x":25.0,"y":-18.66},{"x":25.0,"y":-18.47},{"x":25.0,"y":-18.28},{"x":25.0,"y":-18.09},{"x":25.0,"y":-17.9},{"x":25.0,"y":-17.71},
{"x":25.7,"y":-18.76},{"x":25.7,"y":-18.57},{"x":25.7,"y":-18.38},{"x":25.7,"y":-18.19},{"x":25.7,"y":-18.0},{"x":25.7,"y":-17.81},{"x":25.7,"y":-17.62},
{"x":26.4,"y":-18.78},{"x":26.4,"y":-18.59},{"x":26.4,"y":-18.4},{"x":26.4,"y":-18.21},{"x":26.4,"y":-18.02},{"x":26.4,"y":-17.83},{"x":26.4,"y":-17.64},
{"x":27.1,"y":-18.7},{"x":27.1,"y":-18.51},{"x":27.1,"y":-18.32},{"x":27.1,"y":-18.13},{"x":27.1,"y":-17.94},{"x":27.1,"y":-17.75},{"x":27.1,"y":-17.56},
{"x":27.8,"y":-18.72},{"x":27.8,"y":-18.53},{"x":27.8,"y":-18.34},{"x":27.8,"y":-18.15},{"x":27.8,"y":-17.96},{"x":27.8,"y":-17.77},{"x":27.8,"y":-17.58},
{"x":28.5,"y":-18.62},{"x":28.5,"y":-18.43},{"x":28.5,"y":-18.24},{"x":28.5,"y":-18.05},{"x":28.5,"y":-17.86},{"x":28.5,"y":-17.67},{"x":28.5,"y":-17.48},
{"x":29.2,"y":-18.64},{"x":29.2,"y":-18.45},{"x":29.2,"y":-18.26},{"x":29.2,"y":-18.07},{"x":29.2,"y":-17.88},{"x":29.2,"y":-17.69},{"x":29.2,"y":-17.5},{"x":29.2,"y":-17.31},
{"x":29.9,"y":-18.56},{"x":29.9,"y":-18.37},{"x":29.9,"y":-18.18},{"x":29.9,"y":-17.99},{"x":29.9,"y":-17.8},{"x":29.9,"y":-17.61},{"x":29.9,"y":-17.42},{"x":29.9,"y":-17.23},
{"x":30.6,"y":-18.58},{"x":30.6,"y":-18.39},{"x":30.6,"y":-18.2},{"x":30.6,"y":-18.01},{"x":30.6,"y":-17.82},{"x":30.6,"y":-17.63},{"x":30.6,"y":-17.44},{"x":30.6,"y":-17.25},
{"x":31.3,"y":-18.5},{"x":31.3,"y":-18.31},{"x":31.3,"y":-18.12},{"x":31.3,"y":-17.93},{"x":31.3,"y":-17.74},{"x":31.3,"y":-17.55},{"x":31.3,"y":-17.36},{"x":31.3,"y":-17.17},
{"x":32.0,"y":-18.52},{"x":32.0,"y":-18.33},{"x":32.0,"y":-18.14},{"x":32.0,"y":-17.95},{"x":32.0,"y":-17.76},{"x":32.0,"y":-17.57},{"x":32.0,"y":-17.38},{"x":32.0,"y":-17.19},
{"x":32.7,"y":-18.44},{"x":32.7,"y":-18.25},{"x":32.7,"y":-18.06},{"x":32.7,"y":-17.87},{"x":32.7,"y":-17.68},{"x":32.7,"y":-17.49},{"x":32.7,"y":-17.3},{"x":32.7,"y":-17.11},
{"x":33.4,"y":-18.46},{"x":33.4,"y":-18.27},{"x":33.4,"y":-18.08},{"x":33.4,"y":-17.89},{"x":33.4,"y":-17.7},{"x":33.4,"y":-17.51},{"x":33.4,"y":-17.32},{"x":33.4,"y":-17.13},
{"x":34.1,"y":-18.38},{"x":34.1,"y":-18.19},{"x":34.1,"y":-18.0},{"x":34.1,"y":-17.81},{"x":34.1,"y":-17.62},{"x":34.1,"y":-17.43},{"x":34.1,"y":-17.24},{"x":34.1,"y":-17.05},
{"x":34.8,"y":-18.4},{"x":34.8,"y":-18.21},{"x":34.8,"y":-18.02},{"x":34.8,"y":-17.83},{"x":34.8,"y":-17.64},{"x":34.8,"y":-17.45},{"x":34.8,"y":-17.26},{"x":34.8,"y":-17.07},
{"x":20.3,"y":-19.18},{"x":20.3,"y":-19.06},{"x":20.3,"y":-18.94},{"x":20.3,"y":-18.82},{"x":20.3,"y":-18.7},{"x":20.3,"y":-18.58},{"x":20.3,"y":-18.46},{"x":20.3,"y":-18.34},{"x":20.3,"y":-18.22},{"x":20.3,"y":-18.1},{"x":20.3,"y":-17.98},{"x":20.3,"y":-17.86},
{"x":20.65,"y":-19.16},{"x":20.65,"y":-19.04},{"x":20.65,"y":-18.92},{"x":20.65,"y":-18.8},{"x":20.65,"y":-18.68},{"x":20.65,"y":-18.56},{"x":20.65,"y":-18.44},{"x":20.65,"y":-18.32},{"x":20.65,"y":-18.2},{"x":20.65,"y":-18.08},{"x":20.65,"y":-17.96},{"x":20.65,"y":-17.84},
{"x":21.0,"y":-19.13},{"x":21.0,"y":-19.01},{"x":21.0,"y":-18.89},{"x":21.0,"y":-18.77},{"x":21.0,"y":-18.65},{"x":21.0,"y":-18.53},{"x":21.0,"y":-18.41},{"x":21.0,"y":-18.29},{"x":21.0,"y":-18.17},{"x":21.0,"y":-18.05},{"x":21.0,"y":-17.93},{"x":21.0,"y":-17.81},
{"x":21.35,"y":-19.12},{"x":21.35,"y":-19.0},{"x":21.35,"y":-18.88},{"x":21.35,"y":-18.76},{"x":21.35,"y":-18.64},{"x":21.35,"y":-18.52},{"x":21.35,"y":-18.4},{"x":21.35,"y":-18.28},{"x":21.35,"y":-18.16},{"x":21.35,"y":-18.04},{"x":21.35,"y":-17.92},{"x":21.35,"y":-17.8},
{"x":21.7,"y":-19.1},{"x":21.7,"y":-18.98},{"x":21.7,"y":-18.86},{"x":21.7,"y":-18.74},{"x":21.7,"y":-18.62},{"x":21.7,"y":-18.5},{"x":21.7,"y":-18.38},{"x":21.7,"y":-18.26},{"x":21.7,"y":-18.14},{"x":21.7,"y":-18.02},{"x":21.7,"y":-17.9},{"x":21.7,"y":-17.78},
{"x":22.05,"y":-19.09},{"x":22.05,"y":-18.97},{"x":22.05,"y":-18.85},{"x":22.05,"y":-18.73},{"x":22.05,"y":-18.61},{"x":22.05,"y":-18.49},{"x":22.05,"y":-18.37},{"x":22.05,"y":-18.25},{"x":22.05,"y":-18.13},{"x":22.05,"y":-18.01},{"x":22.05,"y":-17.89},{"x":22.05,"y":-17.77},{"x":22.05,"y":-17.66},
{"x":22.4,"y":-19.08},{"x":22.4,"y":-18.96},{"x":22.4,"y":-18.84},{"x":22.4,"y":-18.72},{"x":22.4,"y":-18.6},{"x":22.4,"y":-18.48},{"x":22.4,"y":-18.36},{"x":22.4,"y":-18.24},{"x":22.4,"y":-18.12},{"x":22.4,"y":-18.0},{"x":22.4,"y":-17.88},{"x":22.4,"y":-17.76},{"x":22.4,"y":-17.64},
{"x":22.75,"y":-19.07},{"x":22.75,"y":-18.95},{"x":22.75,"y":-18.83},{"x":22.75,"y":-18.71},{"x":22.75,"y":-18.59},{"x":22.75,"y":-18.47},{"x":22.75,"y":-18.35},{"x":22.75,"y":-18.23},{"x":22.75,"y":-18.11},{"x":22.75,"y":-17.99},{"x":22.75,"y":-17.87},{"x":22.75,"y":-17.75},{"x":22.75,"y":-17.63},
{"x":23.1,"y":-19.59},{"x":23.1,"y":-19.06},{"x":23.1,"y":-18.94},{"x":23.1,"y":-18.82},{"x":23.1,"y":-18.7},{"x":23.1,"y":-18.58},{"x":23.1,"y":-18.46},{"x":23.1,"y":-18.34},{"x":23.1,"y":-18.22},{"x":23.1,"y":-18.1},{"x":23.1,"y":-17.98},{"x":23.1,"y":-17.86},{"x":23.1,"y":-17.74},{"x":23.1,"y":-17.62},
{"x":23.45,"y":-19.04},{"x":23.45,"y":-18.92},{"x":23.45,"y":-18.8},{"x":23.45,"y":-18.68},{"x":23.45,"y":-18.56},{"x":23.45,"y":-18.44},{"x":23.45,"y":-18.32},{"x":23.45,"y":-18.2},{"x":23.45,"y":-18.08},{"x":23.45,"y":-17.96},{"x":23.45,"y":-17.84},{"x":23.45,"y":-17.72},{"x":23.45,"y":-17.6},
{"x":23.8,"y":-19.34},{"x":23.8,"y":-19.02},{"x":23.8,"y":-18.9},{"x":23.8,"y":-18.78},{"x":23.8,"y":-18.66},{"x":23.8,"y":-18.54},{"x":23.8,"y":-18.42},{"x":23.8,"y":-18.3},{"x":23.8,"y":-18.18},{"x":23.8,"y":-18.06},{"x":23.8,"y":-17.94},{"x":23.8,"y":-17.82},{"x":23.8,"y":-17.7},{"x":23.8,"y":-17.58},
{"x":24.15,"y":-19.01},{"x":24.15,"y":-18.89},{"x":24.15,"y":-18.77},{"x":24.15,"y":-18.65},{"x":24.15,"y":-18.53},{"x":24.15,"y":-18.41},{"x":24.15,"y":-18.29},{"x":24.15,"y":-18.17},{"x":24.15,"y":-18.05},{"x":24.15,"y":-17.93},{"x":24.15,"y":-17.81},{"x":24.15,"y":-17.69},{"x":24.15,"y":-17.57},
{"x":24.5,"y":-19.0},{"x":24.5,"y":-18.88},{"x":24.5,"y":-18.76},{"x":24.5,"y":-18.64},{"x":24.5,"y":-18.52},{"x":24.5,"y":-18.4},{"x":24.5,"y":-18.28},{"x":24.5,"y":-18.16},{"x":24.5,"y":-18.04},{"x":24.5,"y":-17.92},{"x":24.5,"y":-17.8},{"x":24.5,"y":-17.68},{"x":24.5,"y":-17.56},
{"x":24.85,"y":-18.98},{"x":24.85,"y":-18.86},{"x":24.85,"y":-18.74},{"x":24.85,"y":-18.62},{"x":24.85,"y":-18.5},{"x":24.85,"y":-18.38},{"x":24.85,"y":-18.26},{"x":24.85,"y":-18.14},{"x":24.85,"y":-18.02},{"x":24.85,"y":-17.9},{"x":24.85,"y":-17.78},{"x":24.85,"y":-17.66},{"x":24.85,"y":-17.54},
{"x":25.2,"y":-18.96},{"x":25.2,"y":-18.84},{"x":25.2,"y":-18.72},{"x":25.2,"y":-18.6},{"x":25.2,"y":-18.48},{"x":25.2,"y":-18.36},{"x":25.2,"y":-18.24},{"x":25.2,"y":-18.12},{"x":25.2,"y":-18.0},{"x":25.2,"y":-17.88},{"x":25.2,"y":-17.76},{"x":25.2,"y":-17.64},{"x":25.2,"y":-17.52},
{"x":25.55,"y":-18.94},{"x":25.55,"y":-18.82},{"x":25.55,"y":-18.7},{"x":25.55,"y":-18.58},{"x":25.55,"y":-18.46},{"x":25.55,"y":-18.34},{"x":25.55,"y":-18.22},{"x":25.55,"y":-18.1},{"x":25.55,"y":-17.98},{"x":25.55,"y":-17.86},{"x":25.55,"y":-17.74},{"x":25.55,"y":-17.62},{"x":25.55,"y":-17.5},
{"x":25.9,"y":-18.92},{"x":25.9,"y":-18.8},{"x":25.9,"y":-18.68},{"x":25.9,"y":-18.56},{"x":25.9,"y":-18.44},{"x":25.9,"y":-18.32},{"x":25.9,"y":-18.2},{"x":25.9,"y":-18.08},{"x":25.9,"y":-17.96},{"x":25.9,"y":-17.84},{"x":25.9,"y":-17.72},{"x":25.9,"y":-17.6},{"x":25.9,"y":-17.48},
{"x":26.25,"y":-18.96},{"x":26.25,"y":-18.84},{"x":26.25,"y":-18.72},{"x":26.25,"y":-18.6},{"x":26.25,"y":-18.48},{"x":26.25,"y":-18.36},{"x":26.25,"y":-18.24},{"x":26.25,"y":-18.12},{"x":26.25,"y":-18.0},{"x":26.25,"y":-17.88},{"x":26.25,"y":-17.76},{"x":26.25,"y":-17.64},{"x":26.25,"y":-17.52},
{"x":26.6,"y":-19.04},{"x":26.6,"y":-18.9},{"x":26.6,"y":-18.78},{"x":26.6,"y":-18.66},{"x":26.6,"y":-18.54},{"x":26.6,"y":-18.42},{"x":26.6,"y":-18.3},{"x":26.6,"y":-18.18},{"x":26.6,"y":-18.06},{"x":26.6,"y":-17.94},{"x":26.6,"y":-17.82},{"x":26.6,"y":-17.7},{"x":26.6,"y":-17.58},{"x":26.6,"y":-17.46},
{"x":26.95,"y":-18.88},{"x":26.95,"y":-18.8},{"x":26.95,"y":-18.68},{"x":26.95,"y":-18.56},{"x":26.95,"y":-18.44},{"x":26.95,"y":-18.32},{"x":26.95,"y":-18.2},{"x":26.95,"y":-18.08},{"x":26.95,"y":-17.96},{"x":26.95,"y":-17.84},{"x":26.95,"y":-17.72},{"x":26.95,"y":-17.6},{"x":26.95,"y":-17.48},{"x":26.95,"y":-17.36},
{"x":27.3,"y":-18.86},{"x":27.3,"y":-18.74},{"x":27.3,"y":-18.62},{"x":27.3,"y":-18.5},{"x":27.3,"y":-18.38},{"x":27.3,"y":-18.26},{"x":27.3,"y":-18.14},{"x":27.3,"y":-18.02},{"x":27.3,"y":-17.9},{"x":27.3,"y":-17.78},{"x":27.3,"y":-17.66},{"x":27.3,"y":-17.54},{"x":27.3,"y":-17.42},
{"x":27.65,"y":-18.85},{"x":27.65,"y":-18.78},{"x":27.65,"y":-18.66},{"x":27.65,"y":-18.54},{"x":27.65,"y":-18.42},{"x":27.65,"y":-18.3},{"x":27.65,"y":-18.18},{"x":27.65,"y":-18.06},{"x":27.65,"y":-17.94},{"x":27.65,"y":-17.82},{"x":27.65,"y":-17.7},{"x":27.65,"y":-17.58},{"x":27.65,"y":-17.46},
{"x":28.0,"y":-18.84},{"x":28.0,"y":-18.72},{"x":28.0,"y":-18.6},{"x":28.0,"y":-18.48},{"x":28.0,"y":-18.36},{"x":28.0,"y":-18.24},{"x":28.0,"y":-18.12},{"x":28.0,"y":-18.0},{"x":28.0,"y":-17.88},{"x":28.0,"y":-17.76},{"x":28.0,"y":-17.64},{"x":28.0,"y":-17.52},{"x":28.0,"y":-17.4},
{"x":28.35,"y":-18.88},{"x":28.35,"y":-18.76},{"x":28.35,"y":-18.64},{"x":28.35,"y":-18.52},{"x":28.35,"y":-18.4},{"x":28.35,"y":-18.28},{"x":28.35,"y":-18.16},{"x":28.35,"y":-18.04},{"x":28.35,"y":-17.92},{"x":28.35,"y":-17.8},{"x":28.35,"y":-17.68},{"x":28.35,"y":-17.56},{"x":28.35,"y":-17.44},{"x":28.35,"y":-17.32},
{"x":28.7,"y":-18.92},{"x":28.7,"y":-18.8},{"x":28.7,"y":-18.68},{"x":28.7,"y":-18.56},{"x":28.7,"y":-18.44},{"x":28.7,"y":-18.32},{"x":28.7,"y":-18.2},{"x":28.7,"y":-18.08},{"x":28.7,"y":-17.96},{"x":28.7,"y":-17.84},{"x":28.7,"y":-17.72},{"x":28.7,"y":-17.6},{"x":28.7,"y":-17.48},{"x":28.7,"y":-17.36},
{"x":29.05,"y":-18.85},{"x":29.05,"y":-18.72},{"x":29.05,"y":-18.6},{"x":29.05,"y":-18.48},{"x":29.05,"y":-18.36},{"x":29.05,"y":-18.24},{"x":29.05,"y":-18.12},{"x":29.05,"y":-18.0},{"x":29.05,"y":-17.88},{"x":29.05,"y":-17.76},{"x":29.05,"y":-17.64},{"x":29.05,"y":-17.52},{"x":29.05,"y":-17.4},{"x":29.05,"y":-17.28},
{"x":29.4,"y":-18.78},{"x":29.4,"y":-18.66},{"x":29.4,"y":-18.54},{"x":29.4,"y":-18.42},{"x":29.4,"y":-18.3},{"x":29.4,"y":-18.18},{"x":29.4,"y":-18.06},{"x":29.4,"y":-17.94},{"x":29.4,"y":-17.82},{"x":29.4,"y":-17.7},{"x":29.4,"y":-17.58},{"x":29.4,"y":-17.46},{"x":29.4,"y":-17.34},
{"x":29.75,"y":-18.8},{"x":29.75,"y":-18.7},{"x":29.75,"y":-18.58},{"x":29.75,"y":-18.46},{"x":29.75,"y":-18.34},{"x":29.75,"y":-18.22},{"x":29.75,"y":-18.1},{"x":29.75,"y":-17.98},{"x":29.75,"y":-17.86},{"x":29.75,"y":-17.74},{"x":29.75,"y":-17.62},{"x":29.75,"y":-17.5},{"x":29.75,"y":-17.38},{"x":29.75,"y":-17.26},{"x":29.75,"y":-17.14},
{"x":24.8,"y":-18.22},{"x":25.6,"y":-18.06},{"x":26.3,"y":-17.9},{"x":27.0,"y":-18.3},{"x":27.7,"y":-18.1},{"x":28.4,"y":-17.95},{"x":29.1,"y":-18.25},{"x":29.8,"y":-18.0},{"x":26.0,"y":-18.45},{"x":28.2,"y":-18.55},{"x":30.4,"y":-18.3},{"x":31.5,"y":-18.1},{"x":25.0,"y":-17.75},{"x":27.5,"y":-17.7},{"x":23.5,"y":-18.4},{"x":22.0,"y":-18.3},{"x":21.0,"y":-18.5},{"x":20.5,"y":-18.7},
{"x":30.1,"y":-18.8},{"x":30.1,"y":-18.68},{"x":30.1,"y":-18.56},{"x":30.1,"y":-18.44},{"x":30.1,"y":-18.32},{"x":30.1,"y":-18.2},{"x":30.1,"y":-18.08},{"x":30.1,"y":-17.96},{"x":30.1,"y":-17.84},{"x":30.1,"y":-17.72},{"x":30.1,"y":-17.6},{"x":30.1,"y":-17.48},{"x":30.1,"y":-17.36},{"x":30.1,"y":-17.24},{"x":30.1,"y":-17.12},
{"x":30.45,"y":-18.76},{"x":30.45,"y":-18.64},{"x":30.45,"y":-18.52},{"x":30.45,"y":-18.4},{"x":30.45,"y":-18.28},{"x":30.45,"y":-18.16},{"x":30.45,"y":-18.04},{"x":30.45,"y":-17.92},{"x":30.45,"y":-17.8},{"x":30.45,"y":-17.68},{"x":30.45,"y":-17.56},{"x":30.45,"y":-17.44},{"x":30.45,"y":-17.32},{"x":30.45,"y":-17.2},{"x":30.45,"y":-17.08},
{"x":30.8,"y":-18.74},{"x":30.8,"y":-18.62},{"x":30.8,"y":-18.5},{"x":30.8,"y":-18.38},{"x":30.8,"y":-18.26},{"x":30.8,"y":-18.14},{"x":30.8,"y":-18.02},{"x":30.8,"y":-17.9},{"x":30.8,"y":-17.78},{"x":30.8,"y":-17.66},{"x":30.8,"y":-17.54},{"x":30.8,"y":-17.42},{"x":30.8,"y":-17.3},{"x":30.8,"y":-17.18},{"x":30.8,"y":-17.06},
{"x":31.15,"y":-18.73},{"x":31.15,"y":-18.62},{"x":31.15,"y":-18.5},{"x":31.15,"y":-18.38},{"x":31.15,"y":-18.26},{"x":31.15,"y":-18.14},{"x":31.15,"y":-18.02},{"x":31.15,"y":-17.9},{"x":31.15,"y":-17.78},{"x":31.15,"y":-17.66},{"x":31.15,"y":-17.54},{"x":31.15,"y":-17.42},{"x":31.15,"y":-17.3},{"x":31.15,"y":-17.18},{"x":31.15,"y":-17.06},
{"x":31.5,"y":-18.72},{"x":31.5,"y":-18.6},{"x":31.5,"y":-18.48},{"x":31.5,"y":-18.36},{"x":31.5,"y":-18.24},{"x":31.5,"y":-18.12},{"x":31.5,"y":-18.0},{"x":31.5,"y":-17.88},{"x":31.5,"y":-17.76},{"x":31.5,"y":-17.64},{"x":31.5,"y":-17.52},{"x":31.5,"y":-17.4},{"x":31.5,"y":-17.28},{"x":31.5,"y":-17.16},{"x":31.5,"y":-17.04},
{"x":31.85,"y":-18.7},{"x":31.85,"y":-18.56},{"x":31.85,"y":-18.44},{"x":31.85,"y":-18.32},{"x":31.85,"y":-18.2},{"x":31.85,"y":-18.08},{"x":31.85,"y":-17.96},{"x":31.85,"y":-17.84},{"x":31.85,"y":-17.72},{"x":31.85,"y":-17.6},{"x":31.85,"y":-17.48},{"x":31.85,"y":-17.36},{"x":31.85,"y":-17.24},{"x":31.85,"y":-17.12},
{"x":32.2,"y":-18.7},{"x":32.2,"y":-18.58},{"x":32.2,"y":-18.46},{"x":32.2,"y":-18.34},{"x":32.2,"y":-18.22},{"x":32.2,"y":-18.1},{"x":32.2,"y":-17.98},{"x":32.2,"y":-17.86},{"x":32.2,"y":-17.74},{"x":32.2,"y":-17.62},{"x":32.2,"y":-17.5},{"x":32.2,"y":-17.38},{"x":32.2,"y":-17.26},{"x":32.2,"y":-17.14},{"x":32.2,"y":-17.02},
{"x":32.55,"y":-18.66},{"x":32.55,"y":-18.54},{"x":32.55,"y":-18.42},{"x":32.55,"y":-18.3},{"x":32.55,"y":-18.18},{"x":32.55,"y":-18.06},{"x":32.55,"y":-17.94},{"x":32.55,"y":-17.82},{"x":32.55,"y":-17.7},{"x":32.55,"y":-17.58},{"x":32.55,"y":-17.46},{"x":32.55,"y":-17.34},{"x":32.55,"y":-17.22},{"x":32.55,"y":-17.1},
{"x":32.9,"y":-18.64},{"x":32.9,"y":-18.52},{"x":32.9,"y":-18.4},{"x":32.9,"y":-18.28},{"x":32.9,"y":-18.16},{"x":32.9,"y":-18.04},{"x":32.9,"y":-17.92},{"x":32.9,"y":-17.8},{"x":32.9,"y":-17.68},{"x":32.9,"y":-17.56},{"x":32.9,"y":-17.44},{"x":32.9,"y":-17.32},{"x":32.9,"y":-17.2},{"x":32.9,"y":-17.08},
{"x":33.25,"y":-18.62},{"x":33.25,"y":-18.48},{"x":33.25,"y":-18.36},{"x":33.25,"y":-18.24},{"x":33.25,"y":-18.12},{"x":33.25,"y":-18.0},{"x":33.25,"y":-17.88},{"x":33.25,"y":-17.76},{"x":33.25,"y":-17.64},{"x":33.25,"y":-17.52},{"x":33.25,"y":-17.4},{"x":33.25,"y":-17.28},{"x":33.25,"y":-17.16},{"x":33.25,"y":-17.04},
{"x":33.6,"y":-18.62},{"x":33.6,"y":-18.5},{"x":33.6,"y":-18.38},{"x":33.6,"y":-18.26},{"x":33.6,"y":-18.14},{"x":33.6,"y":-18.02},{"x":33.6,"y":-17.9},{"x":33.6,"y":-17.78},{"x":33.6,"y":-17.66},{"x":33.6,"y":-17.54},{"x":33.6,"y":-17.42},{"x":33.6,"y":-17.3},{"x":33.6,"y":-17.18},{"x":33.6,"y":-17.06},
{"x":33.95,"y":-18.58},{"x":33.95,"y":-18.44},{"x":33.95,"y":-18.32},{"x":33.95,"y":-18.2},{"x":33.95,"y":-18.08},{"x":33.95,"y":-17.96},{"x":33.95,"y":-17.84},{"x":33.95,"y":-17.72},{"x":33.95,"y":-17.6},{"x":33.95,"y":-17.48},{"x":33.95,"y":-17.36},{"x":33.95,"y":-17.24},{"x":33.95,"y":-17.12},
{"x":34.3,"y":-18.58},{"x":34.3,"y":-18.46},{"x":34.3,"y":-18.34},{"x":34.3,"y":-18.22},{"x":34.3,"y":-18.1},{"x":34.3,"y":-17.98},{"x":34.3,"y":-17.86},{"x":34.3,"y":-17.74},{"x":34.3,"y":-17.62},{"x":34.3,"y":-17.5},{"x":34.3,"y":-17.38},{"x":34.3,"y":-17.26},{"x":34.3,"y":-17.14},{"x":34.3,"y":-17.02},
{"x":34.65,"y":-18.54},{"x":34.65,"y":-18.4},{"x":34.65,"y":-18.28},{"x":34.65,"y":-18.16},{"x":34.65,"y":-18.04},{"x":34.65,"y":-17.92},{"x":34.65,"y":-17.8},{"x":34.65,"y":-17.68},{"x":34.65,"y":-17.56},{"x":34.65,"y":-17.44},{"x":34.65,"y":-17.32},{"x":34.65,"y":-17.2},{"x":34.65,"y":-17.08},
{"x":35.0,"y":-18.55},{"x":35.0,"y":-18.43},{"x":35.0,"y":-18.31},{"x":35.0,"y":-18.19},{"x":35.0,"y":-18.07},{"x":35.0,"y":-17.95},{"x":35.0,"y":-17.83},{"x":35.0,"y":-17.71},{"x":35.0,"y":-17.59},{"x":35.0,"y":-17.47},{"x":35.0,"y":-17.35},{"x":35.0,"y":-17.23},{"x":35.0,"y":-17.11},
{"x":35.35,"y":-18.5},{"x":35.35,"y":-18.37},{"x":35.35,"y":-18.25},{"x":35.35,"y":-18.13},{"x":35.35,"y":-18.01},{"x":35.35,"y":-17.89},{"x":35.35,"y":-17.77},{"x":35.35,"y":-17.65},{"x":35.35,"y":-17.53},{"x":35.35,"y":-17.41},{"x":35.35,"y":-17.29},{"x":35.35,"y":-17.17},{"x":35.35,"y":-17.05},
{"x":35.7,"y":-18.5},{"x":35.7,"y":-18.38},{"x":35.7,"y":-18.26},{"x":35.7,"y":-18.14},{"x":35.7,"y":-18.02},{"x":35.7,"y":-17.9},{"x":35.7,"y":-17.78},{"x":35.7,"y":-17.66},{"x":35.7,"y":-17.54},{"x":35.7,"y":-17.42},{"x":35.7,"y":-17.3},{"x":35.7,"y":-17.18},{"x":35.7,"y":-17.06},
{"x":36.05,"y":-18.46},{"x":36.05,"y":-18.33},{"x":36.05,"y":-18.21},{"x":36.05,"y":-18.09},{"x":36.05,"y":-17.97},{"x":36.05,"y":-17.85},{"x":36.05,"y":-17.73},{"x":36.05,"y":-17.61},{"x":36.05,"y":-17.49},{"x":36.05,"y":-17.37},{"x":36.05,"y":-17.25},{"x":36.05,"y":-17.13},{"x":36.05,"y":-17.03},
{"x":36.4,"y":-18.45},{"x":36.4,"y":-18.33},{"x":36.4,"y":-18.21},{"x":36.4,"y":-18.09},{"x":36.4,"y":-17.97},{"x":36.4,"y":-17.85},{"x":36.4,"y":-17.73},{"x":36.4,"y":-17.61},{"x":36.4,"y":-17.49},{"x":36.4,"y":-17.37},{"x":36.4,"y":-17.25},{"x":36.4,"y":-17.13},{"x":36.4,"y":-17.01},
{"x":36.75,"y":-18.42},{"x":36.75,"y":-18.28},{"x":36.75,"y":-18.16},{"x":36.75,"y":-18.04},{"x":36.75,"y":-17.92},{"x":36.75,"y":-17.8},{"x":36.75,"y":-17.68},{"x":36.75,"y":-17.56},{"x":36.75,"y":-17.44},{"x":36.75,"y":-17.32},{"x":36.75,"y":-17.2},{"x":36.75,"y":-17.08},
{"x":37.1,"y":-18.42},{"x":37.1,"y":-18.3},{"x":37.1,"y":-18.18},{"x":37.1,"y":-18.06},{"x":37.1,"y":-17.94},{"x":37.1,"y":-17.82},{"x":37.1,"y":-17.7},{"x":37.1,"y":-17.58},{"x":37.1,"y":-17.46},{"x":37.1,"y":-17.34},{"x":37.1,"y":-17.22},{"x":37.1,"y":-17.1},
{"x":37.45,"y":-18.38},{"x":37.45,"y":-18.24},{"x":37.45,"y":-18.12},{"x":37.45,"y":-18.0},{"x":37.45,"y":-17.88},{"x":37.45,"y":-17.76},{"x":37.45,"y":-17.64},{"x":37.45,"y":-17.52},{"x":37.45,"y":-17.4},{"x":37.45,"y":-17.28},{"x":37.45,"y":-17.16},{"x":37.45,"y":-17.04},
{"x":37.8,"y":-18.38},{"x":37.8,"y":-18.26},{"x":37.8,"y":-18.14},{"x":37.8,"y":-18.02},{"x":37.8,"y":-17.9},{"x":37.8,"y":-17.78},{"x":37.8,"y":-17.66},{"x":37.8,"y":-17.54},{"x":37.8,"y":-17.42},{"x":37.8,"y":-17.3},{"x":37.8,"y":-17.18},{"x":37.8,"y":-17.06},
{"x":38.15,"y":-18.34},{"x":38.15,"y":-18.2},{"x":38.15,"y":-18.08},{"x":38.15,"y":-17.96},{"x":38.15,"y":-17.84},{"x":38.15,"y":-17.72},{"x":38.15,"y":-17.6},{"x":38.15,"y":-17.48},{"x":38.15,"y":-17.36},{"x":38.15,"y":-17.24},{"x":38.15,"y":-17.12},
{"x":38.5,"y":-18.34},{"x":38.5,"y":-18.22},{"x":38.5,"y":-18.1},{"x":38.5,"y":-17.98},{"x":38.5,"y":-17.86},{"x":38.5,"y":-17.74},{"x":38.5,"y":-17.62},{"x":38.5,"y":-17.5},{"x":38.5,"y":-17.38},{"x":38.5,"y":-17.26},{"x":38.5,"y":-17.14},{"x":38.5,"y":-17.02},
{"x":38.85,"y":-18.3},{"x":38.85,"y":-18.16},{"x":38.85,"y":-18.04},{"x":38.85,"y":-17.92},{"x":38.85,"y":-17.8},{"x":38.85,"y":-17.68},{"x":38.85,"y":-17.56},{"x":38.85,"y":-17.44},{"x":38.85,"y":-17.32},{"x":38.85,"y":-17.2},{"x":38.85,"y":-17.08},
{"x":39.2,"y":-18.3},{"x":39.2,"y":-18.18},{"x":39.2,"y":-18.06},{"x":39.2,"y":-17.94},{"x":39.2,"y":-17.82},{"x":39.2,"y":-17.7},{"x":39.2,"y":-17.58},{"x":39.2,"y":-17.46},{"x":39.2,"y":-17.34},{"x":39.2,"y":-17.22},{"x":39.2,"y":-17.1},
{"x":39.55,"y":-18.26},{"x":39.55,"y":-18.12},{"x":39.55,"y":-18.0},{"x":39.55,"y":-17.88},{"x":39.55,"y":-17.76},{"x":39.55,"y":-17.64},{"x":39.55,"y":-17.52},{"x":39.55,"y":-17.4},{"x":39.55,"y":-17.28},{"x":39.55,"y":-17.16},{"x":39.55,"y":-17.04},
{"x":39.9,"y":-18.28},{"x":39.9,"y":-18.16},{"x":39.9,"y":-18.04},{"x":39.9,"y":-17.92},{"x":39.9,"y":-17.8},{"x":39.9,"y":-17.68},{"x":39.9,"y":-17.56},{"x":39.9,"y":-17.44},{"x":39.9,"y":-17.32},{"x":39.9,"y":-17.2},{"x":39.9,"y":-17.08},
{"x":40.7,"y":-18.2},{"x":40.7,"y":-18.06},{"x":40.7,"y":-17.92},{"x":40.7,"y":-17.78},{"x":40.7,"y":-17.64},{"x":40.7,"y":-17.5},{"x":40.7,"y":-17.36},{"x":40.7,"y":-17.22},{"x":40.7,"y":-17.08},
{"x":41.1,"y":-18.12},{"x":41.1,"y":-17.98},{"x":41.1,"y":-17.84},{"x":41.1,"y":-17.7},{"x":41.1,"y":-17.56},{"x":41.1,"y":-17.42},{"x":41.1,"y":-17.28},{"x":41.1,"y":-17.14},{"x":41.1,"y":-17.02},
{"x":41.5,"y":-18.16},{"x":41.5,"y":-18.02},{"x":41.5,"y":-17.88},{"x":41.5,"y":-17.74},{"x":41.5,"y":-17.6},{"x":41.5,"y":-17.46},{"x":41.5,"y":-17.32},{"x":41.5,"y":-17.18},{"x":41.5,"y":-17.04},
{"x":41.9,"y":-18.08},{"x":41.9,"y":-17.94},{"x":41.9,"y":-17.8},{"x":41.9,"y":-17.66},{"x":41.9,"y":-17.52},{"x":41.9,"y":-17.38},{"x":41.9,"y":-17.24},{"x":41.9,"y":-17.1},
{"x":42.3,"y":-18.1},{"x":42.3,"y":-17.96},{"x":42.3,"y":-17.82},{"x":42.3,"y":-17.68},{"x":42.3,"y":-17.54},{"x":42.3,"y":-17.4},{"x":42.3,"y":-17.26},{"x":42.3,"y":-17.12},
{"x":42.7,"y":-18.02},{"x":42.7,"y":-17.88},{"x":42.7,"y":-17.74},{"x":42.7,"y":-17.6},{"x":42.7,"y":-17.46},{"x":42.7,"y":-17.32},{"x":42.7,"y":-17.18},{"x":42.7,"y":-17.04},
{"x":43.1,"y":-18.04},{"x":43.1,"y":-17.9},{"x":43.1,"y":-17.76},{"x":43.1,"y":-17.62},{"x":43.1,"y":-17.48},{"x":43.1,"y":-17.34},{"x":43.1,"y":-17.2},{"x":43.1,"y":-17.06},
{"x":43.5,"y":-17.96},{"x":43.5,"y":-17.82},{"x":43.5,"y":-17.68},{"x":43.5,"y":-17.54},{"x":43.5,"y":-17.4},{"x":43.5,"y":-17.26},{"x":43.5,"y":-17.12},
{"x":43.9,"y":-17.98},{"x":43.9,"y":-17.84},{"x":43.9,"y":-17.7},{"x":43.9,"y":-17.56},{"x":43.9,"y":-17.42},{"x":43.9,"y":-17.28},{"x":43.9,"y":-17.14},{"x":43.9,"y":-17.02},
{"x":44.3,"y":-17.9},{"x":44.3,"y":-17.76},{"x":44.3,"y":-17.62},{"x":44.3,"y":-17.48},{"x":44.3,"y":-17.34},{"x":44.3,"y":-17.2},{"x":44.3,"y":-17.06},
{"x":44.7,"y":-17.94},{"x":44.7,"y":-17.8},{"x":44.7,"y":-17.66},{"x":44.7,"y":-17.52},{"x":44.7,"y":-17.38},{"x":44.7,"y":-17.24},{"x":44.7,"y":-17.1},
{"x":45.1,"y":-17.86},{"x":45.1,"y":-17.72},{"x":45.1,"y":-17.58},{"x":45.1,"y":-17.44},{"x":45.1,"y":-17.3},{"x":45.1,"y":-17.16},{"x":45.1,"y":-17.03},
{"x":45.5,"y":-17.88},{"x":45.5,"y":-17.74},{"x":45.5,"y":-17.6},{"x":45.5,"y":-17.46},{"x":45.5,"y":-17.32},{"x":45.5,"y":-17.18},{"x":45.5,"y":-17.04},
{"x":45.9,"y":-17.8},{"x":45.9,"y":-17.66},{"x":45.9,"y":-17.52},{"x":45.9,"y":-17.38},{"x":45.9,"y":-17.24},{"x":45.9,"y":-17.1},
{"x":46.3,"y":-17.85},{"x":46.3,"y":-17.71},{"x":46.3,"y":-17.57},{"x":46.3,"y":-17.43},{"x":46.3,"y":-17.29},{"x":46.3,"y":-17.15},{"x":46.3,"y":-17.02},
{"x":46.7,"y":-17.76},{"x":46.7,"y":-17.62},{"x":46.7,"y":-17.48},{"x":46.7,"y":-17.34},{"x":46.7,"y":-17.2},{"x":46.7,"y":-17.06},
{"x":47.1,"y":-17.8},{"x":47.1,"y":-17.66},{"x":47.1,"y":-17.52},{"x":47.1,"y":-17.38},{"x":47.1,"y":-17.24},{"x":47.1,"y":-17.1},
{"x":47.5,"y":-17.7},{"x":47.5,"y":-17.56},{"x":47.5,"y":-17.42},{"x":47.5,"y":-17.28},{"x":47.5,"y":-17.14},{"x":47.5,"y":-17.02},
{"x":47.9,"y":-17.76},{"x":47.9,"y":-17.62},{"x":47.9,"y":-17.48},{"x":47.9,"y":-17.34},{"x":47.9,"y":-17.2},{"x":47.9,"y":-17.06},
{"x":48.3,"y":-17.64},{"x":48.3,"y":-17.5},{"x":48.3,"y":-17.36},{"x":48.3,"y":-17.22},{"x":48.3,"y":-17.08},
{"x":48.7,"y":-17.72},{"x":48.7,"y":-17.58},{"x":48.7,"y":-17.44},{"x":48.7,"y":-17.3},{"x":48.7,"y":-17.16},{"x":48.7,"y":-17.03},
{"x":49.1,"y":-17.6},{"x":49.1,"y":-17.46},{"x":49.1,"y":-17.32},{"x":49.1,"y":-17.18},{"x":49.1,"y":-17.05},
{"x":49.5,"y":-17.68},{"x":49.5,"y":-17.54},{"x":49.5,"y":-17.4},{"x":49.5,"y":-17.26},{"x":49.5,"y":-17.12},
{"x":50.5,"y":-17.62},{"x":50.8,"y":-17.45},{"x":51.2,"y":-17.3},{"x":51.0,"y":-17.15},{"x":51.8,"y":-17.55},{"x":52.3,"y":-17.38},{"x":52.6,"y":-17.2},{"x":53.0,"y":-17.05},{"x":53.5,"y":-17.6},{"x":53.9,"y":-17.42},{"x":54.2,"y":-17.25},{"x":54.8,"y":-17.1},{"x":55.3,"y":-17.5},{"x":55.6,"y":-17.35},{"x":56.0,"y":-17.18},{"x":56.7,"y":-17.42},{"x":57.2,"y":-17.28},{"x":57.6,"y":-17.1},{"x":58.3,"y":-17.35},{"x":58.8,"y":-17.2},{"x":59.5,"y":-17.45},{"x":60.0,"y":-17.3},{"x":60.4,"y":-17.12},{"x":61.2,"y":-17.22},{"x":61.8,"y":-17.38},{"x":62.5,"y":-17.15},{"x":63.2,"y":-17.3},{"x":63.8,"y":-17.05},{"x":64.6,"y":-17.25},{"x":65.3,"y":-17.12},{"x":66.0,"y":-17.2},{"x":66.8,"y":-17.05},{"x":67.5,"y":-17.15},{"x":68.3,"y":-17.08},{"x":69.2,"y":-17.12},{"x":69.8,"y":-17.02},{"x":60.5,"y":-17.6},{"x":58.0,"y":-17.7},{"x":62.5,"y":-17.5},{"x":55.0,"y":-17.7},{"x":56.5,"y":-17.8},
{"x":38.7,"y":-18.92},{"x":38.6,"y":-18.82},{"x":38.6,"y":-18.77},{"x":41.3,"y":-18.74},{"x":40.3,"y":-18.63},{"x":42.3,"y":-18.64},{"x":44.0,"y":-18.61},{"x":38.9,"y":-18.57},{"x":39.3,"y":-18.48},{"x":42.5,"y":-18.37},{"x":43.3,"y":-18.24},{"x":45.7,"y":-18.22},{"x":48.1,"y":-18.15},{"x":50.9,"y":-18.11},{"x":54.2,"y":-18.39},{"x":53.1,"y":-18.33},{"x":56.3,"y":-18.14},{"x":55.8,"y":-18.07},{"x":58.7,"y":-17.99},{"x":62.2,"y":-18.0},{"x":62.4,"y":-17.94},{"x":67.8,"y":-17.86},{"x":32.4,"y":-19.15},{"x":36.0,"y":-19.17},{"x":31.3,"y":-19.04},{"x":24.0,"y":-19.34},{"x":17.5,"y":-19.58},{"x":33.8,"y":-18.85},{"x":30.5,"y":-18.82},{"x":34.2,"y":-18.58},{"x":45.7,"y":-18.05},{"x":49.2,"y":-17.97},{"x":51.8,"y":-17.95},{"x":52.2,"y":-17.69},{"x":56.3,"y":-17.63},{"x":58.4,"y":-17.5},{"x":62.6,"y":-17.42},{"x":67.8,"y":-17.23},{"x":63.5,"y":-17.26},
{"x":16.2,"y":-17.61},{"x":16.9,"y":-17.58},{"x":19.9,"y":-17.49},{"x":15.8,"y":-17.41},{"x":18.8,"y":-17.35},{"x":20.7,"y":-17.34},{"x":24.0,"y":-17.41},{"x":25.1,"y":-17.3},{"x":17.7,"y":-17.24},{"x":20.7,"y":-17.18},{"x":22.1,"y":-17.08},{"x":27.3,"y":-17.14},{"x":10.6,"y":-17.53},{"x":13.6,"y":-17.46},{"x":11.0,"y":-17.08},{"x":14.0,"y":-17.11},{"x":12.0,"y":-17.3},{"x":13.0,"y":-17.62},{"x":14.8,"y":-17.25},{"x":15.5,"y":-17.05},{"x":17.0,"y":-17.45},{"x":18.0,"y":-17.1},{"x":19.3,"y":-17.28},{"x":21.5,"y":-17.5},{"x":22.8,"y":-17.25},{"x":23.5,"y":-17.05},{"x":24.6,"y":-17.18},{"x":26.0,"y":-17.05},{"x":26.5,"y":-17.3},{"x":21.2,"y":-17.62},{"x":12.5,"y":-17.15},{"x":16.4,"y":-17.3},{"x":19.0,"y":-17.02},{"x":28.5,"y":-17.1},{"x":29.2,"y":-17.22}
]
},
"layer":[
{"data":{"values":[{"x":23.9,"y":-22.51,"label":"SLSNe"}]},
 "mark":{"type":"text","align":"left","baseline":"alphabetic","font":"Liberation Sans","fontSize":50,"color":"#0000ff"},
 "encoding":{"x":{"field":"x","type":"quantitative","scale":{"domain":[-50,70],"nice":false,"zero":false},"axis":{"values":[-40,-20,0,20,40,60],"title":"Rest Frame Phase [Days]"}},"y":{"field":"y","type":"quantitative","scale":{"domain":[-23,-17],"reverse":true,"nice":false,"zero":false},"axis":{"values":[-23,-22,-21,-20,-19,-18,-17],"title":"Absolute Magnitude [r]"}},"text":{"field":"label"}}},
{"data":{"values":[{"x":8.3,"y":-19.64,"label":"Normal SNe"}]},
 "mark":{"type":"text","align":"left","baseline":"alphabetic","font":"Liberation Sans","fontSize":50,"color":"#46a22d"},
 "encoding":{"x":{"field":"x","type":"quantitative","scale":{"domain":[-50,70],"nice":false,"zero":false},"axis":{"values":[-40,-20,0,20,40,60],"title":"Rest Frame Phase [Days]"}},"y":{"field":"y","type":"quantitative","scale":{"domain":[-23,-17],"reverse":true,"nice":false,"zero":false},"axis":{"values":[-23,-22,-21,-20,-19,-18,-17],"title":"Absolute Magnitude [r]"}},"text":{"field":"label"}}},
{"data":{"name":"slsn"},
 "mark":{"type":"circle","size":80,"fill":"#0000ff","fillOpacity":0.2,"stroke":"#0000ff","strokeOpacity":0.2,"strokeWidth":1,"clip":true},
 "encoding":{"x":{"field":"x","type":"quantitative","scale":{"domain":[-50,70],"nice":false,"zero":false},"axis":{"values":[-40,-20,0,20,40,60],"title":"Rest Frame Phase [Days]"}},"y":{"field":"y","type":"quantitative","scale":{"domain":[-23,-17],"reverse":true,"nice":false,"zero":false},"axis":{"values":[-23,-22,-21,-20,-19,-18,-17],"title":"Absolute Magnitude [r]"}}}},
{"data":{"name":"sn"},
 "mark":{"type":"circle","size":80,"fill":"#008000","fillOpacity":0.28,"stroke":"#008000","strokeOpacity":0.28,"strokeWidth":1,"clip":true},
 "encoding":{"x":{"field":"x","type":"quantitative","scale":{"domain":[-50,70],"nice":false,"zero":false},"axis":{"values":[-40,-20,0,20,40,60],"title":"Rest Frame Phase [Days]"}},"y":{"field":"y","type":"quantitative","scale":{"domain":[-23,-17],"reverse":true,"nice":false,"zero":false},"axis":{"values":[-23,-22,-21,-20,-19,-18,-17],"title":"Absolute Magnitude [r]"}}}},
{"data":{"values":[{"y":-21}]},
 "mark":{"type":"rule","color":"black","strokeWidth":1.3,"strokeDash":[6,3]},
 "encoding":{"y":{"field":"y","type":"quantitative","scale":{"domain":[-23,-17],"reverse":true,"nice":false,"zero":false},"axis":{"values":[-23,-22,-21,-20,-19,-18,-17],"title":"Absolute Magnitude [r]"}}}}
]
}
